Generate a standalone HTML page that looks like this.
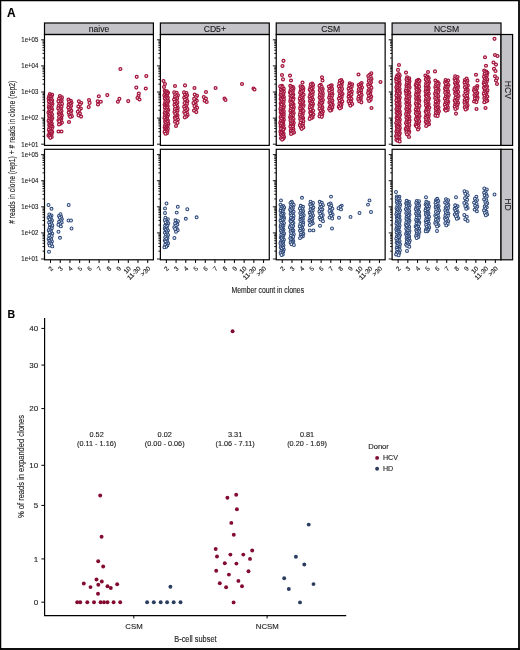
<!DOCTYPE html>
<html><head><meta charset="utf-8"><style>html,body{margin:0;padding:0;background:#fff;width:520px;height:650px;overflow:hidden}</style></head>
<body><svg width="520" height="650" viewBox="0 0 520 650" style="display:block;will-change:transform"><style>text{stroke:currentColor;stroke-width:0.12px;paint-order:stroke}</style><rect x="0" y="0" width="520" height="650" fill="#fff"/><text x="6.9" y="16.9" font-family='"Liberation Sans", sans-serif' font-weight="bold" font-size="11.9" fill="#000">A</text><text transform="translate(15.0,152.3) rotate(-90)" text-anchor="middle" font-family='"Liberation Sans", sans-serif' font-size="8.3" fill="#222" textLength="143" lengthAdjust="spacingAndGlyphs"># reads in clone (rep1) + # reads in clone (rep2)</text><rect x="44.50" y="23.0" width="108.90" height="11.50" fill="#c4c4c8" stroke="#000" stroke-width="1.2"/><text x="98.95" y="31.55" text-anchor="middle" font-family='"Liberation Sans", sans-serif' font-size="8.6" fill="#1a1a1a">naive</text><g fill="#fff3f6" stroke="#a3153d" stroke-width="1.25"><circle cx="49.9" cy="94.1" r="1.45"/><circle cx="52.2" cy="94.7" r="1.45"/><circle cx="50.6" cy="95.6" r="1.45"/><circle cx="49.1" cy="96.4" r="1.45"/><circle cx="51.5" cy="97.0" r="1.45"/><circle cx="50.1" cy="97.4" r="1.45"/><circle cx="48.6" cy="98.6" r="1.45"/><circle cx="51.1" cy="98.8" r="1.45"/><circle cx="49.6" cy="100.1" r="1.45"/><circle cx="52.2" cy="100.3" r="1.45"/><circle cx="50.7" cy="100.7" r="1.45"/><circle cx="48.9" cy="101.6" r="1.45"/><circle cx="51.3" cy="102.1" r="1.45"/><circle cx="49.8" cy="103.3" r="1.45"/><circle cx="52.4" cy="103.8" r="1.45"/><circle cx="50.9" cy="104.3" r="1.45"/><circle cx="49.2" cy="104.8" r="1.45"/><circle cx="51.8" cy="105.5" r="1.45"/><circle cx="50.2" cy="106.4" r="1.45"/><circle cx="48.8" cy="107.2" r="1.45"/><circle cx="51.3" cy="107.6" r="1.45"/><circle cx="49.6" cy="108.6" r="1.45"/><circle cx="52.1" cy="109.2" r="1.45"/><circle cx="50.7" cy="110.1" r="1.45"/><circle cx="49.4" cy="110.3" r="1.45"/><circle cx="51.5" cy="110.8" r="1.45"/><circle cx="50.0" cy="112.0" r="1.45"/><circle cx="48.5" cy="112.5" r="1.45"/><circle cx="51.1" cy="113.3" r="1.45"/><circle cx="49.7" cy="113.9" r="1.45"/><circle cx="52.0" cy="114.4" r="1.45"/><circle cx="50.5" cy="115.3" r="1.45"/><circle cx="49.1" cy="115.8" r="1.45"/><circle cx="51.3" cy="116.9" r="1.45"/><circle cx="49.7" cy="117.3" r="1.45"/><circle cx="52.3" cy="118.0" r="1.45"/><circle cx="50.9" cy="118.9" r="1.45"/><circle cx="49.3" cy="119.1" r="1.45"/><circle cx="51.5" cy="120.0" r="1.45"/><circle cx="50.1" cy="120.5" r="1.45"/><circle cx="48.6" cy="120.9" r="1.45"/><circle cx="51.0" cy="122.1" r="1.45"/><circle cx="49.6" cy="122.4" r="1.45"/><circle cx="51.8" cy="123.6" r="1.45"/><circle cx="50.6" cy="123.9" r="1.45"/><circle cx="49.2" cy="124.9" r="1.45"/><circle cx="51.4" cy="125.6" r="1.45"/><circle cx="50.0" cy="125.9" r="1.45"/><circle cx="52.5" cy="126.9" r="1.45"/><circle cx="50.8" cy="127.0" r="1.45"/><circle cx="49.4" cy="127.8" r="1.45"/><circle cx="51.8" cy="128.6" r="1.45"/><circle cx="50.2" cy="129.1" r="1.45"/><circle cx="48.9" cy="129.9" r="1.45"/><circle cx="51.4" cy="130.7" r="1.45"/><circle cx="49.8" cy="131.5" r="1.45"/><circle cx="52.2" cy="132.1" r="1.45"/><circle cx="50.9" cy="132.3" r="1.45"/><circle cx="49.4" cy="133.6" r="1.45"/><circle cx="51.6" cy="134.3" r="1.45"/><circle cx="50.0" cy="134.6" r="1.45"/><circle cx="48.5" cy="135.5" r="1.45"/><circle cx="50.9" cy="135.7" r="1.45"/><circle cx="49.5" cy="136.4" r="1.45"/><circle cx="51.7" cy="137.0" r="1.45"/><circle cx="50.3" cy="137.8" r="1.45"/><circle cx="59.9" cy="96.1" r="1.45"/><circle cx="61.9" cy="97.4" r="1.45"/><circle cx="60.5" cy="98.0" r="1.45"/><circle cx="59.0" cy="98.9" r="1.45"/><circle cx="61.7" cy="100.2" r="1.45"/><circle cx="60.0" cy="100.8" r="1.45"/><circle cx="58.4" cy="101.3" r="1.45"/><circle cx="60.8" cy="102.4" r="1.45"/><circle cx="59.4" cy="103.7" r="1.45"/><circle cx="62.0" cy="103.9" r="1.45"/><circle cx="60.2" cy="105.2" r="1.45"/><circle cx="58.7" cy="106.0" r="1.45"/><circle cx="61.5" cy="106.9" r="1.45"/><circle cx="59.9" cy="108.0" r="1.45"/><circle cx="58.3" cy="108.4" r="1.45"/><circle cx="60.8" cy="109.2" r="1.45"/><circle cx="59.4" cy="110.4" r="1.45"/><circle cx="61.5" cy="111.1" r="1.45"/><circle cx="60.4" cy="112.3" r="1.45"/><circle cx="58.8" cy="113.2" r="1.45"/><circle cx="61.2" cy="114.1" r="1.45"/><circle cx="59.6" cy="114.5" r="1.45"/><circle cx="61.8" cy="115.5" r="1.45"/><circle cx="60.4" cy="116.1" r="1.45"/><circle cx="59.1" cy="117.1" r="1.45"/><circle cx="61.4" cy="118.5" r="1.45"/><circle cx="60.2" cy="119.4" r="1.45"/><circle cx="58.5" cy="120.3" r="1.45"/><circle cx="60.8" cy="120.6" r="1.45"/><circle cx="59.3" cy="121.4" r="1.45"/><circle cx="61.9" cy="122.6" r="1.45"/><circle cx="60.3" cy="123.7" r="1.45"/><circle cx="59.0" cy="124.4" r="1.45"/><circle cx="58.5" cy="131.5" r="1.45"/><circle cx="61.5" cy="131.5" r="1.45"/><circle cx="68.5" cy="99.6" r="1.45"/><circle cx="70.8" cy="100.8" r="1.45"/><circle cx="69.1" cy="101.6" r="1.45"/><circle cx="71.5" cy="102.8" r="1.45"/><circle cx="70.3" cy="103.9" r="1.45"/><circle cx="68.7" cy="104.6" r="1.45"/><circle cx="71.1" cy="106.0" r="1.45"/><circle cx="69.5" cy="106.4" r="1.45"/><circle cx="68.3" cy="107.5" r="1.45"/><circle cx="70.4" cy="109.0" r="1.45"/><circle cx="69.2" cy="110.1" r="1.45"/><circle cx="71.3" cy="110.9" r="1.45"/><circle cx="69.8" cy="111.9" r="1.45"/><circle cx="68.7" cy="112.5" r="1.45"/><circle cx="70.9" cy="114.0" r="1.45"/><circle cx="69.4" cy="115.3" r="1.45"/><circle cx="71.9" cy="116.3" r="1.45"/><circle cx="70.2" cy="116.8" r="1.45"/><circle cx="69.0" cy="122.0" r="1.45"/><circle cx="78.9" cy="101.3" r="1.45"/><circle cx="81.2" cy="103.0" r="1.45"/><circle cx="79.9" cy="104.6" r="1.45"/><circle cx="78.3" cy="106.5" r="1.45"/><circle cx="80.8" cy="108.5" r="1.45"/><circle cx="79.4" cy="110.1" r="1.45"/><circle cx="77.8" cy="111.8" r="1.45"/><circle cx="79.9" cy="113.6" r="1.45"/><circle cx="78.5" cy="115.3" r="1.45"/><circle cx="81.1" cy="116.6" r="1.45"/><circle cx="89.0" cy="100.0" r="1.45"/><circle cx="89.6" cy="102.9" r="1.45"/><circle cx="88.7" cy="107.1" r="1.45"/><circle cx="98.8" cy="96.2" r="1.45"/><circle cx="97.7" cy="101.2" r="1.45"/><circle cx="100.8" cy="101.7" r="1.45"/><circle cx="98.0" cy="104.5" r="1.45"/><circle cx="107.3" cy="95.1" r="1.45"/><circle cx="120.4" cy="69.0" r="1.45"/><circle cx="119.4" cy="98.8" r="1.45"/><circle cx="117.9" cy="101.7" r="1.45"/><circle cx="128.2" cy="101.1" r="1.45"/><circle cx="136.7" cy="76.8" r="1.45"/><circle cx="136.3" cy="87.6" r="1.45"/><circle cx="138.8" cy="93.5" r="1.45"/><circle cx="138.5" cy="96.0" r="1.45"/><circle cx="137.5" cy="98.0" r="1.45"/><circle cx="139.5" cy="99.5" r="1.45"/><circle cx="146.3" cy="76.1" r="1.45"/><circle cx="145.8" cy="88.5" r="1.45"/></g><rect x="44.50" y="34.5" width="108.90" height="110.90" fill="none" stroke="#000" stroke-width="1.2"/><path d="M41.10 39.80H44.50 M42.50 58.04H44.50 M42.50 53.45H44.50 M42.50 50.19H44.50 M42.50 47.66H44.50 M42.50 45.59H44.50 M42.50 43.84H44.50 M42.50 42.33H44.50 M42.50 40.99H44.50 M41.10 65.90H44.50 M42.50 84.14H44.50 M42.50 79.55H44.50 M42.50 76.29H44.50 M42.50 73.76H44.50 M42.50 71.69H44.50 M42.50 69.94H44.50 M42.50 68.43H44.50 M42.50 67.09H44.50 M41.10 92.00H44.50 M42.50 110.24H44.50 M42.50 105.65H44.50 M42.50 102.39H44.50 M42.50 99.86H44.50 M42.50 97.79H44.50 M42.50 96.04H44.50 M42.50 94.53H44.50 M42.50 93.19H44.50 M41.10 118.10H44.50 M42.50 136.34H44.50 M42.50 131.75H44.50 M42.50 128.49H44.50 M42.50 125.96H44.50 M42.50 123.89H44.50 M42.50 122.14H44.50 M42.50 120.63H44.50 M42.50 119.29H44.50 M41.10 144.20H44.50" stroke="#000" stroke-width="0.9" fill="none"/><text x="38.3" y="42.10" text-anchor="end" font-family='"Liberation Sans", sans-serif' font-size="6.6" fill="#1e1e1e" textLength="17" lengthAdjust="spacingAndGlyphs">1e+05</text><text x="38.3" y="68.20" text-anchor="end" font-family='"Liberation Sans", sans-serif' font-size="6.6" fill="#1e1e1e" textLength="17" lengthAdjust="spacingAndGlyphs">1e+04</text><text x="38.3" y="94.30" text-anchor="end" font-family='"Liberation Sans", sans-serif' font-size="6.6" fill="#1e1e1e" textLength="17" lengthAdjust="spacingAndGlyphs">1e+03</text><text x="38.3" y="120.40" text-anchor="end" font-family='"Liberation Sans", sans-serif' font-size="6.6" fill="#1e1e1e" textLength="17" lengthAdjust="spacingAndGlyphs">1e+02</text><text x="38.3" y="146.50" text-anchor="end" font-family='"Liberation Sans", sans-serif' font-size="6.6" fill="#1e1e1e" textLength="17" lengthAdjust="spacingAndGlyphs">1e+01</text><g fill="#eef2fa" stroke="#2c4778" stroke-width="1.05"><circle cx="49.3" cy="214.5" r="1.45"/><circle cx="51.5" cy="215.5" r="1.45"/><circle cx="50.2" cy="216.5" r="1.45"/><circle cx="48.5" cy="217.7" r="1.45"/><circle cx="50.9" cy="218.5" r="1.45"/><circle cx="49.7" cy="219.3" r="1.45"/><circle cx="52.0" cy="220.5" r="1.45"/><circle cx="50.7" cy="221.7" r="1.45"/><circle cx="49.1" cy="222.5" r="1.45"/><circle cx="51.4" cy="223.5" r="1.45"/><circle cx="49.9" cy="224.7" r="1.45"/><circle cx="52.3" cy="225.5" r="1.45"/><circle cx="50.9" cy="226.9" r="1.45"/><circle cx="49.6" cy="227.8" r="1.45"/><circle cx="51.8" cy="228.3" r="1.45"/><circle cx="50.4" cy="229.9" r="1.45"/><circle cx="48.7" cy="230.2" r="1.45"/><circle cx="51.0" cy="231.5" r="1.45"/><circle cx="49.6" cy="232.3" r="1.45"/><circle cx="52.2" cy="233.6" r="1.45"/><circle cx="50.5" cy="234.8" r="1.45"/><circle cx="49.2" cy="235.7" r="1.45"/><circle cx="51.7" cy="236.2" r="1.45"/><circle cx="50.0" cy="237.9" r="1.45"/><circle cx="48.6" cy="238.9" r="1.45"/><circle cx="51.2" cy="239.5" r="1.45"/><circle cx="49.4" cy="240.8" r="1.45"/><circle cx="51.9" cy="241.4" r="1.45"/><circle cx="50.3" cy="242.4" r="1.45"/><circle cx="49.1" cy="243.4" r="1.45"/><circle cx="51.3" cy="244.1" r="1.45"/><circle cx="49.7" cy="245.5" r="1.45"/><circle cx="52.3" cy="246.4" r="1.45"/><circle cx="48.5" cy="205.0" r="1.45"/><circle cx="51.5" cy="208.8" r="1.45"/><circle cx="49.0" cy="251.7" r="1.45"/><circle cx="60.5" cy="214.2" r="1.45"/><circle cx="59.0" cy="216.0" r="1.45"/><circle cx="61.1" cy="216.6" r="1.45"/><circle cx="59.8" cy="217.7" r="1.45"/><circle cx="61.9" cy="219.1" r="1.45"/><circle cx="60.8" cy="220.3" r="1.45"/><circle cx="59.1" cy="221.8" r="1.45"/><circle cx="61.7" cy="222.4" r="1.45"/><circle cx="60.1" cy="223.9" r="1.45"/><circle cx="58.4" cy="224.7" r="1.45"/><circle cx="60.9" cy="226.4" r="1.45"/><circle cx="58.5" cy="231.7" r="1.45"/><circle cx="60.0" cy="237.8" r="1.45"/><circle cx="68.7" cy="205.0" r="1.45"/><circle cx="68.5" cy="220.5" r="1.45"/><circle cx="71.0" cy="220.5" r="1.45"/><circle cx="71.5" cy="228.5" r="1.45"/></g><rect x="44.50" y="149.3" width="108.90" height="110.50" fill="none" stroke="#000" stroke-width="1.2"/><path d="M41.10 154.60H44.50 M42.50 172.84H44.50 M42.50 168.25H44.50 M42.50 164.99H44.50 M42.50 162.46H44.50 M42.50 160.39H44.50 M42.50 158.64H44.50 M42.50 157.13H44.50 M42.50 155.79H44.50 M41.10 180.70H44.50 M42.50 198.94H44.50 M42.50 194.35H44.50 M42.50 191.09H44.50 M42.50 188.56H44.50 M42.50 186.49H44.50 M42.50 184.74H44.50 M42.50 183.23H44.50 M42.50 181.89H44.50 M41.10 206.80H44.50 M42.50 225.04H44.50 M42.50 220.45H44.50 M42.50 217.19H44.50 M42.50 214.66H44.50 M42.50 212.59H44.50 M42.50 210.84H44.50 M42.50 209.33H44.50 M42.50 207.99H44.50 M41.10 232.90H44.50 M42.50 251.14H44.50 M42.50 246.55H44.50 M42.50 243.29H44.50 M42.50 240.76H44.50 M42.50 238.69H44.50 M42.50 236.94H44.50 M42.50 235.43H44.50 M42.50 234.09H44.50 M41.10 259.00H44.50" stroke="#000" stroke-width="0.9" fill="none"/><text x="38.3" y="156.90" text-anchor="end" font-family='"Liberation Sans", sans-serif' font-size="6.6" fill="#1e1e1e" textLength="17" lengthAdjust="spacingAndGlyphs">1e+05</text><text x="38.3" y="183.00" text-anchor="end" font-family='"Liberation Sans", sans-serif' font-size="6.6" fill="#1e1e1e" textLength="17" lengthAdjust="spacingAndGlyphs">1e+04</text><text x="38.3" y="209.10" text-anchor="end" font-family='"Liberation Sans", sans-serif' font-size="6.6" fill="#1e1e1e" textLength="17" lengthAdjust="spacingAndGlyphs">1e+03</text><text x="38.3" y="235.20" text-anchor="end" font-family='"Liberation Sans", sans-serif' font-size="6.6" fill="#1e1e1e" textLength="17" lengthAdjust="spacingAndGlyphs">1e+02</text><text x="38.3" y="261.30" text-anchor="end" font-family='"Liberation Sans", sans-serif' font-size="6.6" fill="#1e1e1e" textLength="17" lengthAdjust="spacingAndGlyphs">1e+01</text><path d="M50.50 259.80V263.00 M60.22 259.80V263.00 M69.94 259.80V263.00 M79.66 259.80V263.00 M89.38 259.80V263.00 M99.10 259.80V263.00 M108.82 259.80V263.00 M118.54 259.80V263.00 M128.26 259.80V263.00 M137.98 259.80V263.00 M147.70 259.80V263.00" stroke="#000" stroke-width="1.0" fill="none"/><text transform="translate(53.50,269.00) rotate(-45)" text-anchor="end" font-family='"Liberation Sans", sans-serif' font-size="6.4" fill="#1e1e1e">2</text><text transform="translate(63.22,269.00) rotate(-45)" text-anchor="end" font-family='"Liberation Sans", sans-serif' font-size="6.4" fill="#1e1e1e">3</text><text transform="translate(72.94,269.00) rotate(-45)" text-anchor="end" font-family='"Liberation Sans", sans-serif' font-size="6.4" fill="#1e1e1e">4</text><text transform="translate(82.66,269.00) rotate(-45)" text-anchor="end" font-family='"Liberation Sans", sans-serif' font-size="6.4" fill="#1e1e1e">5</text><text transform="translate(92.38,269.00) rotate(-45)" text-anchor="end" font-family='"Liberation Sans", sans-serif' font-size="6.4" fill="#1e1e1e">6</text><text transform="translate(102.10,269.00) rotate(-45)" text-anchor="end" font-family='"Liberation Sans", sans-serif' font-size="6.4" fill="#1e1e1e">7</text><text transform="translate(111.82,269.00) rotate(-45)" text-anchor="end" font-family='"Liberation Sans", sans-serif' font-size="6.4" fill="#1e1e1e">8</text><text transform="translate(121.54,269.00) rotate(-45)" text-anchor="end" font-family='"Liberation Sans", sans-serif' font-size="6.4" fill="#1e1e1e">9</text><text transform="translate(131.26,269.00) rotate(-45)" text-anchor="end" font-family='"Liberation Sans", sans-serif' font-size="6.4" fill="#1e1e1e">10</text><text transform="translate(140.98,269.00) rotate(-45)" text-anchor="end" font-family='"Liberation Sans", sans-serif' font-size="6.4" fill="#1e1e1e">11-30</text><text transform="translate(150.70,269.00) rotate(-45)" text-anchor="end" font-family='"Liberation Sans", sans-serif' font-size="6.4" fill="#1e1e1e">&gt;30</text><rect x="160.37" y="23.0" width="108.90" height="11.50" fill="#c4c4c8" stroke="#000" stroke-width="1.2"/><text x="214.82" y="31.55" text-anchor="middle" font-family='"Liberation Sans", sans-serif' font-size="8.6" fill="#1a1a1a">CD5+</text><g fill="#fff3f6" stroke="#a3153d" stroke-width="1.25"><circle cx="164.8" cy="90.7" r="1.45"/><circle cx="166.9" cy="91.2" r="1.45"/><circle cx="165.5" cy="92.0" r="1.45"/><circle cx="168.0" cy="92.6" r="1.45"/><circle cx="166.6" cy="92.9" r="1.45"/><circle cx="165.0" cy="94.0" r="1.45"/><circle cx="167.4" cy="94.0" r="1.45"/><circle cx="165.8" cy="94.8" r="1.45"/><circle cx="164.4" cy="95.4" r="1.45"/><circle cx="166.8" cy="96.1" r="1.45"/><circle cx="165.5" cy="96.8" r="1.45"/><circle cx="167.8" cy="97.5" r="1.45"/><circle cx="166.3" cy="98.1" r="1.45"/><circle cx="164.8" cy="98.6" r="1.45"/><circle cx="167.3" cy="99.3" r="1.45"/><circle cx="165.6" cy="100.4" r="1.45"/><circle cx="168.3" cy="101.0" r="1.45"/><circle cx="166.8" cy="101.4" r="1.45"/><circle cx="165.2" cy="102.3" r="1.45"/><circle cx="167.5" cy="103.3" r="1.45"/><circle cx="166.2" cy="103.7" r="1.45"/><circle cx="164.6" cy="104.7" r="1.45"/><circle cx="167.1" cy="105.3" r="1.45"/><circle cx="165.5" cy="105.8" r="1.45"/><circle cx="167.7" cy="106.2" r="1.45"/><circle cx="166.3" cy="106.7" r="1.45"/><circle cx="164.9" cy="107.9" r="1.45"/><circle cx="167.2" cy="108.1" r="1.45"/><circle cx="166.1" cy="109.3" r="1.45"/><circle cx="168.2" cy="109.8" r="1.45"/><circle cx="166.7" cy="110.1" r="1.45"/><circle cx="165.2" cy="111.0" r="1.45"/><circle cx="167.6" cy="111.6" r="1.45"/><circle cx="166.4" cy="112.7" r="1.45"/><circle cx="164.7" cy="113.0" r="1.45"/><circle cx="167.1" cy="114.0" r="1.45"/><circle cx="165.5" cy="114.2" r="1.45"/><circle cx="168.0" cy="114.9" r="1.45"/><circle cx="166.5" cy="115.7" r="1.45"/><circle cx="164.9" cy="116.3" r="1.45"/><circle cx="167.3" cy="116.8" r="1.45"/><circle cx="165.9" cy="117.6" r="1.45"/><circle cx="164.5" cy="118.0" r="1.45"/><circle cx="167.0" cy="118.8" r="1.45"/><circle cx="165.6" cy="119.7" r="1.45"/><circle cx="167.9" cy="120.5" r="1.45"/><circle cx="166.3" cy="121.3" r="1.45"/><circle cx="165.1" cy="121.5" r="1.45"/><circle cx="167.4" cy="122.1" r="1.45"/><circle cx="165.6" cy="123.1" r="1.45"/><circle cx="168.3" cy="123.9" r="1.45"/><circle cx="166.8" cy="124.4" r="1.45"/><circle cx="165.1" cy="125.2" r="1.45"/><circle cx="167.6" cy="125.7" r="1.45"/><circle cx="166.3" cy="126.6" r="1.45"/><circle cx="164.7" cy="127.3" r="1.45"/><circle cx="167.1" cy="128.0" r="1.45"/><circle cx="165.5" cy="128.5" r="1.45"/><circle cx="167.8" cy="128.6" r="1.45"/><circle cx="166.4" cy="129.6" r="1.45"/><circle cx="165.1" cy="130.6" r="1.45"/><circle cx="167.5" cy="131.1" r="1.45"/><circle cx="165.9" cy="131.8" r="1.45"/><circle cx="164.6" cy="131.9" r="1.45"/><circle cx="166.9" cy="133.2" r="1.45"/><circle cx="165.5" cy="133.7" r="1.45"/><circle cx="163.5" cy="81.0" r="1.45"/><circle cx="165.0" cy="84.0" r="1.45"/><circle cx="164.0" cy="87.0" r="1.45"/><circle cx="174.3" cy="92.4" r="1.45"/><circle cx="176.7" cy="92.8" r="1.45"/><circle cx="175.2" cy="94.3" r="1.45"/><circle cx="177.9" cy="95.3" r="1.45"/><circle cx="176.2" cy="96.0" r="1.45"/><circle cx="174.9" cy="97.0" r="1.45"/><circle cx="177.2" cy="98.2" r="1.45"/><circle cx="175.5" cy="99.0" r="1.45"/><circle cx="174.1" cy="99.6" r="1.45"/><circle cx="176.5" cy="101.0" r="1.45"/><circle cx="174.9" cy="101.8" r="1.45"/><circle cx="177.4" cy="102.4" r="1.45"/><circle cx="176.1" cy="103.8" r="1.45"/><circle cx="174.5" cy="104.8" r="1.45"/><circle cx="176.9" cy="105.6" r="1.45"/><circle cx="175.3" cy="106.6" r="1.45"/><circle cx="177.7" cy="107.9" r="1.45"/><circle cx="176.5" cy="108.9" r="1.45"/><circle cx="174.9" cy="109.1" r="1.45"/><circle cx="177.5" cy="110.7" r="1.45"/><circle cx="175.7" cy="111.4" r="1.45"/><circle cx="174.5" cy="112.1" r="1.45"/><circle cx="176.7" cy="113.1" r="1.45"/><circle cx="175.3" cy="114.0" r="1.45"/><circle cx="177.5" cy="115.6" r="1.45"/><circle cx="176.2" cy="116.5" r="1.45"/><circle cx="174.8" cy="117.5" r="1.45"/><circle cx="177.2" cy="117.9" r="1.45"/><circle cx="175.4" cy="119.1" r="1.45"/><circle cx="177.9" cy="119.6" r="1.45"/><circle cx="176.4" cy="121.0" r="1.45"/><circle cx="175.0" cy="121.7" r="1.45"/><circle cx="177.5" cy="122.8" r="1.45"/><circle cx="175.0" cy="86.0" r="1.45"/><circle cx="176.0" cy="126.0" r="1.45"/><circle cx="184.1" cy="92.4" r="1.45"/><circle cx="186.4" cy="93.0" r="1.45"/><circle cx="185.0" cy="94.6" r="1.45"/><circle cx="187.1" cy="95.4" r="1.45"/><circle cx="185.9" cy="96.5" r="1.45"/><circle cx="184.2" cy="97.8" r="1.45"/><circle cx="186.5" cy="98.8" r="1.45"/><circle cx="185.0" cy="99.6" r="1.45"/><circle cx="187.4" cy="101.3" r="1.45"/><circle cx="186.0" cy="102.5" r="1.45"/><circle cx="184.6" cy="103.0" r="1.45"/><circle cx="186.9" cy="104.1" r="1.45"/><circle cx="185.7" cy="105.8" r="1.45"/><circle cx="184.1" cy="106.7" r="1.45"/><circle cx="186.6" cy="107.9" r="1.45"/><circle cx="185.0" cy="108.7" r="1.45"/><circle cx="187.4" cy="109.4" r="1.45"/><circle cx="185.9" cy="110.8" r="1.45"/><circle cx="184.3" cy="112.1" r="1.45"/><circle cx="186.9" cy="112.7" r="1.45"/><circle cx="185.3" cy="113.9" r="1.45"/><circle cx="187.6" cy="115.1" r="1.45"/><circle cx="186.4" cy="116.5" r="1.45"/><circle cx="184.8" cy="117.3" r="1.45"/><circle cx="185.0" cy="85.4" r="1.45"/><circle cx="194.7" cy="94.6" r="1.45"/><circle cx="197.0" cy="95.7" r="1.45"/><circle cx="195.8" cy="97.2" r="1.45"/><circle cx="194.1" cy="98.9" r="1.45"/><circle cx="196.8" cy="100.7" r="1.45"/><circle cx="195.0" cy="101.8" r="1.45"/><circle cx="193.5" cy="103.1" r="1.45"/><circle cx="195.8" cy="104.7" r="1.45"/><circle cx="194.5" cy="106.1" r="1.45"/><circle cx="197.1" cy="107.8" r="1.45"/><circle cx="195.4" cy="109.4" r="1.45"/><circle cx="194.0" cy="110.6" r="1.45"/><circle cx="196.3" cy="112.1" r="1.45"/><circle cx="194.5" cy="88.0" r="1.45"/><circle cx="203.8" cy="97.1" r="1.45"/><circle cx="205.9" cy="98.6" r="1.45"/><circle cx="204.6" cy="100.7" r="1.45"/><circle cx="206.7" cy="102.0" r="1.45"/><circle cx="206.0" cy="92.0" r="1.45"/><circle cx="215.6" cy="88.0" r="1.45"/><circle cx="224.5" cy="98.6" r="1.45"/><circle cx="225.5" cy="100.0" r="1.45"/><circle cx="242.0" cy="84.0" r="1.45"/><circle cx="253.5" cy="88.5" r="1.45"/><circle cx="254.5" cy="89.5" r="1.45"/></g><rect x="160.37" y="34.5" width="108.90" height="110.90" fill="none" stroke="#000" stroke-width="1.2"/><path d="M156.97 39.80H160.37 M158.37 58.04H160.37 M158.37 53.45H160.37 M158.37 50.19H160.37 M158.37 47.66H160.37 M158.37 45.59H160.37 M158.37 43.84H160.37 M158.37 42.33H160.37 M158.37 40.99H160.37 M156.97 65.90H160.37 M158.37 84.14H160.37 M158.37 79.55H160.37 M158.37 76.29H160.37 M158.37 73.76H160.37 M158.37 71.69H160.37 M158.37 69.94H160.37 M158.37 68.43H160.37 M158.37 67.09H160.37 M156.97 92.00H160.37 M158.37 110.24H160.37 M158.37 105.65H160.37 M158.37 102.39H160.37 M158.37 99.86H160.37 M158.37 97.79H160.37 M158.37 96.04H160.37 M158.37 94.53H160.37 M158.37 93.19H160.37 M156.97 118.10H160.37 M158.37 136.34H160.37 M158.37 131.75H160.37 M158.37 128.49H160.37 M158.37 125.96H160.37 M158.37 123.89H160.37 M158.37 122.14H160.37 M158.37 120.63H160.37 M158.37 119.29H160.37 M156.97 144.20H160.37" stroke="#000" stroke-width="0.9" fill="none"/><g fill="#eef2fa" stroke="#2c4778" stroke-width="1.05"><circle cx="165.4" cy="217.7" r="1.45"/><circle cx="167.9" cy="219.1" r="1.45"/><circle cx="166.1" cy="219.9" r="1.45"/><circle cx="164.9" cy="220.2" r="1.45"/><circle cx="167.2" cy="221.8" r="1.45"/><circle cx="165.6" cy="222.5" r="1.45"/><circle cx="168.3" cy="223.3" r="1.45"/><circle cx="166.8" cy="224.5" r="1.45"/><circle cx="165.1" cy="225.6" r="1.45"/><circle cx="167.4" cy="225.8" r="1.45"/><circle cx="166.2" cy="227.1" r="1.45"/><circle cx="164.7" cy="228.4" r="1.45"/><circle cx="167.1" cy="229.0" r="1.45"/><circle cx="165.6" cy="229.8" r="1.45"/><circle cx="168.0" cy="230.4" r="1.45"/><circle cx="166.6" cy="231.5" r="1.45"/><circle cx="164.9" cy="232.8" r="1.45"/><circle cx="167.2" cy="233.3" r="1.45"/><circle cx="166.0" cy="234.6" r="1.45"/><circle cx="168.1" cy="235.1" r="1.45"/><circle cx="166.8" cy="236.4" r="1.45"/><circle cx="165.2" cy="237.2" r="1.45"/><circle cx="167.5" cy="238.3" r="1.45"/><circle cx="166.2" cy="239.0" r="1.45"/><circle cx="164.8" cy="240.5" r="1.45"/><circle cx="167.1" cy="241.3" r="1.45"/><circle cx="165.6" cy="241.7" r="1.45"/><circle cx="168.1" cy="243.3" r="1.45"/><circle cx="166.4" cy="243.7" r="1.45"/><circle cx="165.2" cy="244.7" r="1.45"/><circle cx="167.4" cy="245.6" r="1.45"/><circle cx="166.2" cy="246.7" r="1.45"/><circle cx="164.4" cy="247.3" r="1.45"/><circle cx="166.5" cy="203.5" r="1.45"/><circle cx="165.0" cy="208.4" r="1.45"/><circle cx="165.0" cy="213.0" r="1.45"/><circle cx="175.5" cy="220.3" r="1.45"/><circle cx="177.9" cy="221.2" r="1.45"/><circle cx="176.4" cy="222.8" r="1.45"/><circle cx="175.1" cy="223.4" r="1.45"/><circle cx="177.4" cy="224.6" r="1.45"/><circle cx="175.7" cy="225.7" r="1.45"/><circle cx="174.3" cy="227.2" r="1.45"/><circle cx="176.7" cy="228.5" r="1.45"/><circle cx="175.2" cy="229.0" r="1.45"/><circle cx="177.7" cy="230.3" r="1.45"/><circle cx="176.0" cy="231.8" r="1.45"/><circle cx="177.8" cy="206.7" r="1.45"/><circle cx="176.7" cy="212.6" r="1.45"/><circle cx="174.4" cy="238.0" r="1.45"/><circle cx="187.3" cy="209.2" r="1.45"/><circle cx="185.8" cy="218.8" r="1.45"/><circle cx="196.6" cy="217.3" r="1.45"/></g><rect x="160.37" y="149.3" width="108.90" height="110.50" fill="none" stroke="#000" stroke-width="1.2"/><path d="M156.97 154.60H160.37 M158.37 172.84H160.37 M158.37 168.25H160.37 M158.37 164.99H160.37 M158.37 162.46H160.37 M158.37 160.39H160.37 M158.37 158.64H160.37 M158.37 157.13H160.37 M158.37 155.79H160.37 M156.97 180.70H160.37 M158.37 198.94H160.37 M158.37 194.35H160.37 M158.37 191.09H160.37 M158.37 188.56H160.37 M158.37 186.49H160.37 M158.37 184.74H160.37 M158.37 183.23H160.37 M158.37 181.89H160.37 M156.97 206.80H160.37 M158.37 225.04H160.37 M158.37 220.45H160.37 M158.37 217.19H160.37 M158.37 214.66H160.37 M158.37 212.59H160.37 M158.37 210.84H160.37 M158.37 209.33H160.37 M158.37 207.99H160.37 M156.97 232.90H160.37 M158.37 251.14H160.37 M158.37 246.55H160.37 M158.37 243.29H160.37 M158.37 240.76H160.37 M158.37 238.69H160.37 M158.37 236.94H160.37 M158.37 235.43H160.37 M158.37 234.09H160.37 M156.97 259.00H160.37" stroke="#000" stroke-width="0.9" fill="none"/><path d="M166.37 259.80V263.00 M176.09 259.80V263.00 M185.81 259.80V263.00 M195.53 259.80V263.00 M205.25 259.80V263.00 M214.97 259.80V263.00 M224.69 259.80V263.00 M234.41 259.80V263.00 M244.13 259.80V263.00 M253.85 259.80V263.00 M263.57 259.80V263.00" stroke="#000" stroke-width="1.0" fill="none"/><text transform="translate(169.37,269.00) rotate(-45)" text-anchor="end" font-family='"Liberation Sans", sans-serif' font-size="6.4" fill="#1e1e1e">2</text><text transform="translate(179.09,269.00) rotate(-45)" text-anchor="end" font-family='"Liberation Sans", sans-serif' font-size="6.4" fill="#1e1e1e">3</text><text transform="translate(188.81,269.00) rotate(-45)" text-anchor="end" font-family='"Liberation Sans", sans-serif' font-size="6.4" fill="#1e1e1e">4</text><text transform="translate(198.53,269.00) rotate(-45)" text-anchor="end" font-family='"Liberation Sans", sans-serif' font-size="6.4" fill="#1e1e1e">5</text><text transform="translate(208.25,269.00) rotate(-45)" text-anchor="end" font-family='"Liberation Sans", sans-serif' font-size="6.4" fill="#1e1e1e">6</text><text transform="translate(217.97,269.00) rotate(-45)" text-anchor="end" font-family='"Liberation Sans", sans-serif' font-size="6.4" fill="#1e1e1e">7</text><text transform="translate(227.69,269.00) rotate(-45)" text-anchor="end" font-family='"Liberation Sans", sans-serif' font-size="6.4" fill="#1e1e1e">8</text><text transform="translate(237.41,269.00) rotate(-45)" text-anchor="end" font-family='"Liberation Sans", sans-serif' font-size="6.4" fill="#1e1e1e">9</text><text transform="translate(247.13,269.00) rotate(-45)" text-anchor="end" font-family='"Liberation Sans", sans-serif' font-size="6.4" fill="#1e1e1e">10</text><text transform="translate(256.85,269.00) rotate(-45)" text-anchor="end" font-family='"Liberation Sans", sans-serif' font-size="6.4" fill="#1e1e1e">11-30</text><text transform="translate(266.57,269.00) rotate(-45)" text-anchor="end" font-family='"Liberation Sans", sans-serif' font-size="6.4" fill="#1e1e1e">&gt;30</text><rect x="276.24" y="23.0" width="108.90" height="11.50" fill="#c4c4c8" stroke="#000" stroke-width="1.2"/><text x="330.69" y="31.55" text-anchor="middle" font-family='"Liberation Sans", sans-serif' font-size="8.6" fill="#1a1a1a">CSM</text><g fill="#fff3f6" stroke="#a3153d" stroke-width="1.25"><circle cx="282.0" cy="85.8" r="1.45"/><circle cx="280.2" cy="86.4" r="1.45"/><circle cx="282.7" cy="87.0" r="1.45"/><circle cx="281.4" cy="88.3" r="1.45"/><circle cx="283.8" cy="88.8" r="1.45"/><circle cx="282.1" cy="89.7" r="1.45"/><circle cx="280.9" cy="89.7" r="1.45"/><circle cx="282.9" cy="90.8" r="1.45"/><circle cx="281.6" cy="91.4" r="1.45"/><circle cx="283.9" cy="91.9" r="1.45"/><circle cx="282.3" cy="92.4" r="1.45"/><circle cx="281.0" cy="93.1" r="1.45"/><circle cx="283.3" cy="94.3" r="1.45"/><circle cx="281.8" cy="95.0" r="1.45"/><circle cx="280.6" cy="95.1" r="1.45"/><circle cx="282.8" cy="96.2" r="1.45"/><circle cx="281.4" cy="96.2" r="1.45"/><circle cx="283.9" cy="97.1" r="1.45"/><circle cx="282.3" cy="97.6" r="1.45"/><circle cx="280.7" cy="98.9" r="1.45"/><circle cx="283.3" cy="99.1" r="1.45"/><circle cx="281.6" cy="100.1" r="1.45"/><circle cx="283.9" cy="100.1" r="1.45"/><circle cx="282.6" cy="101.5" r="1.45"/><circle cx="281.4" cy="102.0" r="1.45"/><circle cx="283.5" cy="102.4" r="1.45"/><circle cx="282.1" cy="103.5" r="1.45"/><circle cx="280.7" cy="103.6" r="1.45"/><circle cx="282.9" cy="104.3" r="1.45"/><circle cx="281.6" cy="104.7" r="1.45"/><circle cx="283.9" cy="106.1" r="1.45"/><circle cx="282.2" cy="106.8" r="1.45"/><circle cx="281.0" cy="106.9" r="1.45"/><circle cx="283.5" cy="108.1" r="1.45"/><circle cx="281.8" cy="108.3" r="1.45"/><circle cx="280.4" cy="109.0" r="1.45"/><circle cx="282.7" cy="110.1" r="1.45"/><circle cx="281.4" cy="110.6" r="1.45"/><circle cx="283.8" cy="111.3" r="1.45"/><circle cx="282.2" cy="111.8" r="1.45"/><circle cx="280.7" cy="112.2" r="1.45"/><circle cx="283.0" cy="113.3" r="1.45"/><circle cx="281.8" cy="113.4" r="1.45"/><circle cx="283.8" cy="114.1" r="1.45"/><circle cx="282.6" cy="114.6" r="1.45"/><circle cx="281.3" cy="115.5" r="1.45"/><circle cx="283.7" cy="116.6" r="1.45"/><circle cx="281.8" cy="116.8" r="1.45"/><circle cx="280.6" cy="117.3" r="1.45"/><circle cx="282.9" cy="118.5" r="1.45"/><circle cx="281.4" cy="118.7" r="1.45"/><circle cx="283.9" cy="119.7" r="1.45"/><circle cx="282.5" cy="120.5" r="1.45"/><circle cx="280.8" cy="121.1" r="1.45"/><circle cx="283.2" cy="121.9" r="1.45"/><circle cx="281.8" cy="122.3" r="1.45"/><circle cx="280.2" cy="123.1" r="1.45"/><circle cx="282.6" cy="123.4" r="1.45"/><circle cx="281.4" cy="123.9" r="1.45"/><circle cx="283.5" cy="124.9" r="1.45"/><circle cx="282.3" cy="125.5" r="1.45"/><circle cx="280.6" cy="126.2" r="1.45"/><circle cx="283.1" cy="127.1" r="1.45"/><circle cx="281.4" cy="127.9" r="1.45"/><circle cx="284.1" cy="128.2" r="1.45"/><circle cx="282.7" cy="129.1" r="1.45"/><circle cx="281.0" cy="129.1" r="1.45"/><circle cx="283.3" cy="129.8" r="1.45"/><circle cx="282.0" cy="131.2" r="1.45"/><circle cx="280.4" cy="131.8" r="1.45"/><circle cx="282.8" cy="132.4" r="1.45"/><circle cx="281.5" cy="132.6" r="1.45"/><circle cx="283.6" cy="133.8" r="1.45"/><circle cx="282.3" cy="134.2" r="1.45"/><circle cx="280.8" cy="134.5" r="1.45"/><circle cx="283.1" cy="135.1" r="1.45"/><circle cx="281.8" cy="135.9" r="1.45"/><circle cx="284.0" cy="136.9" r="1.45"/><circle cx="282.6" cy="137.0" r="1.45"/><circle cx="281.0" cy="138.2" r="1.45"/><circle cx="283.4" cy="138.6" r="1.45"/><circle cx="282.1" cy="139.6" r="1.45"/><circle cx="283.5" cy="60.8" r="1.45"/><circle cx="282.5" cy="66.0" r="1.45"/><circle cx="282.0" cy="75.0" r="1.45"/><circle cx="283.0" cy="79.4" r="1.45"/><circle cx="290.3" cy="85.8" r="1.45"/><circle cx="292.7" cy="86.8" r="1.45"/><circle cx="291.1" cy="87.2" r="1.45"/><circle cx="293.5" cy="88.4" r="1.45"/><circle cx="292.0" cy="88.8" r="1.45"/><circle cx="290.6" cy="90.1" r="1.45"/><circle cx="292.9" cy="90.5" r="1.45"/><circle cx="291.7" cy="91.2" r="1.45"/><circle cx="290.0" cy="92.4" r="1.45"/><circle cx="292.5" cy="92.5" r="1.45"/><circle cx="290.8" cy="93.2" r="1.45"/><circle cx="293.3" cy="94.5" r="1.45"/><circle cx="291.8" cy="95.2" r="1.45"/><circle cx="290.4" cy="96.0" r="1.45"/><circle cx="292.6" cy="96.1" r="1.45"/><circle cx="291.4" cy="97.2" r="1.45"/><circle cx="293.5" cy="98.2" r="1.45"/><circle cx="292.2" cy="98.7" r="1.45"/><circle cx="290.6" cy="99.4" r="1.45"/><circle cx="293.1" cy="99.9" r="1.45"/><circle cx="291.5" cy="101.2" r="1.45"/><circle cx="290.3" cy="101.6" r="1.45"/><circle cx="292.4" cy="102.7" r="1.45"/><circle cx="291.3" cy="102.7" r="1.45"/><circle cx="293.5" cy="104.2" r="1.45"/><circle cx="292.2" cy="104.2" r="1.45"/><circle cx="290.7" cy="105.2" r="1.45"/><circle cx="293.0" cy="106.1" r="1.45"/><circle cx="291.6" cy="106.5" r="1.45"/><circle cx="293.8" cy="107.2" r="1.45"/><circle cx="292.5" cy="108.5" r="1.45"/><circle cx="290.8" cy="108.7" r="1.45"/><circle cx="293.3" cy="109.6" r="1.45"/><circle cx="291.7" cy="110.3" r="1.45"/><circle cx="290.4" cy="111.0" r="1.45"/><circle cx="292.5" cy="112.2" r="1.45"/><circle cx="291.4" cy="112.7" r="1.45"/><circle cx="293.7" cy="113.0" r="1.45"/><circle cx="292.2" cy="113.8" r="1.45"/><circle cx="290.7" cy="114.9" r="1.45"/><circle cx="293.0" cy="115.4" r="1.45"/><circle cx="291.6" cy="116.4" r="1.45"/><circle cx="290.1" cy="117.2" r="1.45"/><circle cx="292.3" cy="117.7" r="1.45"/><circle cx="291.0" cy="118.6" r="1.45"/><circle cx="293.5" cy="119.1" r="1.45"/><circle cx="291.9" cy="120.2" r="1.45"/><circle cx="290.5" cy="120.5" r="1.45"/><circle cx="292.7" cy="121.2" r="1.45"/><circle cx="291.2" cy="122.2" r="1.45"/><circle cx="293.7" cy="122.9" r="1.45"/><circle cx="292.3" cy="123.3" r="1.45"/><circle cx="290.9" cy="124.1" r="1.45"/><circle cx="293.2" cy="125.4" r="1.45"/><circle cx="291.7" cy="125.6" r="1.45"/><circle cx="290.4" cy="126.6" r="1.45"/><circle cx="292.8" cy="127.1" r="1.45"/><circle cx="291.3" cy="128.5" r="1.45"/><circle cx="293.4" cy="129.1" r="1.45"/><circle cx="292.1" cy="130.0" r="1.45"/><circle cx="290.8" cy="130.7" r="1.45"/><circle cx="293.1" cy="130.8" r="1.45"/><circle cx="291.3" cy="132.2" r="1.45"/><circle cx="294.0" cy="132.4" r="1.45"/><circle cx="292.6" cy="133.0" r="1.45"/><circle cx="291.1" cy="133.9" r="1.45"/><circle cx="290.0" cy="75.6" r="1.45"/><circle cx="291.0" cy="80.5" r="1.45"/><circle cx="300.5" cy="86.4" r="1.45"/><circle cx="302.6" cy="86.9" r="1.45"/><circle cx="301.2" cy="88.0" r="1.45"/><circle cx="303.4" cy="88.4" r="1.45"/><circle cx="302.3" cy="89.2" r="1.45"/><circle cx="300.8" cy="90.4" r="1.45"/><circle cx="303.1" cy="90.8" r="1.45"/><circle cx="301.6" cy="91.6" r="1.45"/><circle cx="300.1" cy="92.8" r="1.45"/><circle cx="302.5" cy="93.7" r="1.45"/><circle cx="301.2" cy="94.3" r="1.45"/><circle cx="303.6" cy="94.7" r="1.45"/><circle cx="301.9" cy="95.9" r="1.45"/><circle cx="300.4" cy="96.8" r="1.45"/><circle cx="302.8" cy="97.7" r="1.45"/><circle cx="301.5" cy="98.0" r="1.45"/><circle cx="299.8" cy="98.9" r="1.45"/><circle cx="302.1" cy="99.9" r="1.45"/><circle cx="300.7" cy="100.7" r="1.45"/><circle cx="303.3" cy="101.4" r="1.45"/><circle cx="301.8" cy="102.1" r="1.45"/><circle cx="300.0" cy="102.7" r="1.45"/><circle cx="302.5" cy="103.2" r="1.45"/><circle cx="301.1" cy="104.5" r="1.45"/><circle cx="303.6" cy="105.2" r="1.45"/><circle cx="301.9" cy="105.6" r="1.45"/><circle cx="300.4" cy="106.8" r="1.45"/><circle cx="302.9" cy="107.1" r="1.45"/><circle cx="301.4" cy="108.0" r="1.45"/><circle cx="300.1" cy="108.8" r="1.45"/><circle cx="302.3" cy="109.9" r="1.45"/><circle cx="300.9" cy="110.7" r="1.45"/><circle cx="303.5" cy="111.1" r="1.45"/><circle cx="301.7" cy="112.0" r="1.45"/><circle cx="300.4" cy="112.6" r="1.45"/><circle cx="302.8" cy="114.1" r="1.45"/><circle cx="301.2" cy="114.5" r="1.45"/><circle cx="299.9" cy="114.9" r="1.45"/><circle cx="302.1" cy="116.1" r="1.45"/><circle cx="300.7" cy="117.0" r="1.45"/><circle cx="303.2" cy="118.0" r="1.45"/><circle cx="301.8" cy="118.2" r="1.45"/><circle cx="300.2" cy="118.9" r="1.45"/><circle cx="302.4" cy="119.9" r="1.45"/><circle cx="301.2" cy="120.4" r="1.45"/><circle cx="303.4" cy="121.2" r="1.45"/><circle cx="301.8" cy="122.7" r="1.45"/><circle cx="300.5" cy="122.9" r="1.45"/><circle cx="302.9" cy="123.9" r="1.45"/><circle cx="301.3" cy="125.0" r="1.45"/><circle cx="299.9" cy="125.3" r="1.45"/><circle cx="302.5" cy="125.9" r="1.45"/><circle cx="300.9" cy="127.3" r="1.45"/><circle cx="303.3" cy="127.4" r="1.45"/><circle cx="301.7" cy="128.8" r="1.45"/><circle cx="302.5" cy="82.6" r="1.45"/><circle cx="312.2" cy="83.6" r="1.45"/><circle cx="310.8" cy="84.2" r="1.45"/><circle cx="313.1" cy="85.0" r="1.45"/><circle cx="311.8" cy="86.4" r="1.45"/><circle cx="310.4" cy="87.4" r="1.45"/><circle cx="312.7" cy="87.8" r="1.45"/><circle cx="311.3" cy="88.8" r="1.45"/><circle cx="309.7" cy="89.7" r="1.45"/><circle cx="312.3" cy="90.7" r="1.45"/><circle cx="310.8" cy="91.2" r="1.45"/><circle cx="312.9" cy="91.9" r="1.45"/><circle cx="311.7" cy="93.0" r="1.45"/><circle cx="310.2" cy="94.4" r="1.45"/><circle cx="312.6" cy="94.8" r="1.45"/><circle cx="310.9" cy="95.6" r="1.45"/><circle cx="309.6" cy="97.0" r="1.45"/><circle cx="312.0" cy="97.7" r="1.45"/><circle cx="310.4" cy="98.7" r="1.45"/><circle cx="312.9" cy="99.5" r="1.45"/><circle cx="311.3" cy="100.4" r="1.45"/><circle cx="309.9" cy="101.1" r="1.45"/><circle cx="312.1" cy="101.7" r="1.45"/><circle cx="310.6" cy="102.8" r="1.45"/><circle cx="313.0" cy="103.9" r="1.45"/><circle cx="311.5" cy="104.1" r="1.45"/><circle cx="310.2" cy="105.6" r="1.45"/><circle cx="312.4" cy="105.9" r="1.45"/><circle cx="311.2" cy="106.7" r="1.45"/><circle cx="309.8" cy="108.0" r="1.45"/><circle cx="311.9" cy="109.0" r="1.45"/><circle cx="310.5" cy="109.7" r="1.45"/><circle cx="313.1" cy="110.8" r="1.45"/><circle cx="311.3" cy="111.7" r="1.45"/><circle cx="310.2" cy="112.5" r="1.45"/><circle cx="312.2" cy="113.5" r="1.45"/><circle cx="310.8" cy="113.7" r="1.45"/><circle cx="313.4" cy="114.5" r="1.45"/><circle cx="311.9" cy="115.9" r="1.45"/><circle cx="310.4" cy="116.8" r="1.45"/><circle cx="312.6" cy="117.3" r="1.45"/><circle cx="311.4" cy="118.0" r="1.45"/><circle cx="309.7" cy="118.9" r="1.45"/><circle cx="320.7" cy="84.8" r="1.45"/><circle cx="319.5" cy="85.9" r="1.45"/><circle cx="321.7" cy="86.8" r="1.45"/><circle cx="320.3" cy="88.2" r="1.45"/><circle cx="322.7" cy="89.0" r="1.45"/><circle cx="321.1" cy="89.2" r="1.45"/><circle cx="319.8" cy="90.4" r="1.45"/><circle cx="322.2" cy="91.2" r="1.45"/><circle cx="320.5" cy="92.3" r="1.45"/><circle cx="322.8" cy="93.4" r="1.45"/><circle cx="321.4" cy="94.3" r="1.45"/><circle cx="319.9" cy="94.5" r="1.45"/><circle cx="322.6" cy="96.0" r="1.45"/><circle cx="321.0" cy="96.3" r="1.45"/><circle cx="319.6" cy="97.5" r="1.45"/><circle cx="321.9" cy="98.2" r="1.45"/><circle cx="320.5" cy="99.2" r="1.45"/><circle cx="322.9" cy="100.0" r="1.45"/><circle cx="321.2" cy="100.9" r="1.45"/><circle cx="319.9" cy="102.1" r="1.45"/><circle cx="322.3" cy="102.6" r="1.45"/><circle cx="320.9" cy="103.4" r="1.45"/><circle cx="319.4" cy="104.8" r="1.45"/><circle cx="321.6" cy="105.6" r="1.45"/><circle cx="320.2" cy="106.3" r="1.45"/><circle cx="322.4" cy="107.6" r="1.45"/><circle cx="320.9" cy="108.5" r="1.45"/><circle cx="319.5" cy="108.8" r="1.45"/><circle cx="322.0" cy="110.3" r="1.45"/><circle cx="320.7" cy="110.8" r="1.45"/><circle cx="322.9" cy="111.5" r="1.45"/><circle cx="321.5" cy="112.6" r="1.45"/><circle cx="320.0" cy="113.7" r="1.45"/><circle cx="322.3" cy="114.3" r="1.45"/><circle cx="321.0" cy="115.0" r="1.45"/><circle cx="319.5" cy="116.3" r="1.45"/><circle cx="321.8" cy="116.8" r="1.45"/><circle cx="322.0" cy="77.3" r="1.45"/><circle cx="322.5" cy="80.5" r="1.45"/><circle cx="331.7" cy="85.2" r="1.45"/><circle cx="330.6" cy="85.9" r="1.45"/><circle cx="328.9" cy="86.6" r="1.45"/><circle cx="331.4" cy="87.5" r="1.45"/><circle cx="329.7" cy="88.8" r="1.45"/><circle cx="332.1" cy="89.1" r="1.45"/><circle cx="330.8" cy="90.1" r="1.45"/><circle cx="329.2" cy="90.8" r="1.45"/><circle cx="331.9" cy="91.7" r="1.45"/><circle cx="330.1" cy="93.0" r="1.45"/><circle cx="332.4" cy="94.0" r="1.45"/><circle cx="331.3" cy="94.4" r="1.45"/><circle cx="329.8" cy="95.6" r="1.45"/><circle cx="331.9" cy="96.1" r="1.45"/><circle cx="330.4" cy="97.2" r="1.45"/><circle cx="329.1" cy="97.7" r="1.45"/><circle cx="331.4" cy="98.4" r="1.45"/><circle cx="330.1" cy="99.8" r="1.45"/><circle cx="332.4" cy="100.5" r="1.45"/><circle cx="330.8" cy="101.3" r="1.45"/><circle cx="329.4" cy="102.2" r="1.45"/><circle cx="332.0" cy="103.2" r="1.45"/><circle cx="330.4" cy="103.8" r="1.45"/><circle cx="332.7" cy="104.9" r="1.45"/><circle cx="331.3" cy="105.3" r="1.45"/><circle cx="329.9" cy="106.7" r="1.45"/><circle cx="332.3" cy="107.4" r="1.45"/><circle cx="330.7" cy="108.3" r="1.45"/><circle cx="329.2" cy="108.9" r="1.45"/><circle cx="331.4" cy="109.9" r="1.45"/><circle cx="330.2" cy="110.6" r="1.45"/><circle cx="341.3" cy="80.0" r="1.45"/><circle cx="339.9" cy="80.8" r="1.45"/><circle cx="342.2" cy="81.9" r="1.45"/><circle cx="341.0" cy="82.9" r="1.45"/><circle cx="339.4" cy="83.4" r="1.45"/><circle cx="341.7" cy="84.9" r="1.45"/><circle cx="340.5" cy="85.6" r="1.45"/><circle cx="338.8" cy="86.2" r="1.45"/><circle cx="341.3" cy="87.2" r="1.45"/><circle cx="339.7" cy="88.8" r="1.45"/><circle cx="342.1" cy="89.1" r="1.45"/><circle cx="340.7" cy="90.4" r="1.45"/><circle cx="339.2" cy="91.3" r="1.45"/><circle cx="341.5" cy="92.6" r="1.45"/><circle cx="340.2" cy="93.2" r="1.45"/><circle cx="342.5" cy="94.0" r="1.45"/><circle cx="341.1" cy="95.1" r="1.45"/><circle cx="339.7" cy="95.8" r="1.45"/><circle cx="341.7" cy="96.9" r="1.45"/><circle cx="340.4" cy="97.8" r="1.45"/><circle cx="338.9" cy="98.6" r="1.45"/><circle cx="341.4" cy="99.9" r="1.45"/><circle cx="339.7" cy="100.8" r="1.45"/><circle cx="342.3" cy="101.6" r="1.45"/><circle cx="340.7" cy="103.1" r="1.45"/><circle cx="339.4" cy="103.5" r="1.45"/><circle cx="341.5" cy="104.6" r="1.45"/><circle cx="340.3" cy="105.4" r="1.45"/><circle cx="338.8" cy="106.9" r="1.45"/><circle cx="341.1" cy="107.5" r="1.45"/><circle cx="339.8" cy="108.3" r="1.45"/><circle cx="349.8" cy="83.2" r="1.45"/><circle cx="352.1" cy="84.3" r="1.45"/><circle cx="350.6" cy="84.9" r="1.45"/><circle cx="349.3" cy="85.7" r="1.45"/><circle cx="351.7" cy="86.8" r="1.45"/><circle cx="350.0" cy="87.7" r="1.45"/><circle cx="348.6" cy="88.7" r="1.45"/><circle cx="350.8" cy="89.6" r="1.45"/><circle cx="349.4" cy="91.0" r="1.45"/><circle cx="351.8" cy="91.6" r="1.45"/><circle cx="350.4" cy="92.7" r="1.45"/><circle cx="349.0" cy="93.8" r="1.45"/><circle cx="351.5" cy="94.6" r="1.45"/><circle cx="349.7" cy="95.9" r="1.45"/><circle cx="348.6" cy="96.9" r="1.45"/><circle cx="350.6" cy="97.8" r="1.45"/><circle cx="349.4" cy="98.8" r="1.45"/><circle cx="351.5" cy="99.1" r="1.45"/><circle cx="350.3" cy="100.8" r="1.45"/><circle cx="348.6" cy="101.3" r="1.45"/><circle cx="351.0" cy="102.1" r="1.45"/><circle cx="349.6" cy="103.6" r="1.45"/><circle cx="352.2" cy="104.1" r="1.45"/><circle cx="350.4" cy="105.6" r="1.45"/><circle cx="361.6" cy="83.1" r="1.45"/><circle cx="360.2" cy="84.1" r="1.45"/><circle cx="358.7" cy="85.1" r="1.45"/><circle cx="361.0" cy="85.6" r="1.45"/><circle cx="359.6" cy="86.7" r="1.45"/><circle cx="362.0" cy="87.6" r="1.45"/><circle cx="360.3" cy="88.6" r="1.45"/><circle cx="358.8" cy="89.2" r="1.45"/><circle cx="361.1" cy="90.4" r="1.45"/><circle cx="359.7" cy="91.3" r="1.45"/><circle cx="358.4" cy="92.2" r="1.45"/><circle cx="360.9" cy="93.1" r="1.45"/><circle cx="359.4" cy="93.6" r="1.45"/><circle cx="361.6" cy="94.9" r="1.45"/><circle cx="360.3" cy="96.0" r="1.45"/><circle cx="358.7" cy="96.7" r="1.45"/><circle cx="360.9" cy="98.0" r="1.45"/><circle cx="359.7" cy="98.7" r="1.45"/><circle cx="358.2" cy="99.1" r="1.45"/><circle cx="360.7" cy="100.6" r="1.45"/><circle cx="359.2" cy="101.2" r="1.45"/><circle cx="361.4" cy="102.3" r="1.45"/><circle cx="358.5" cy="74.5" r="1.45"/><circle cx="371.3" cy="73.2" r="1.45"/><circle cx="369.7" cy="74.8" r="1.45"/><circle cx="368.3" cy="76.0" r="1.45"/><circle cx="370.7" cy="76.8" r="1.45"/><circle cx="369.1" cy="78.2" r="1.45"/><circle cx="371.5" cy="79.0" r="1.45"/><circle cx="370.3" cy="80.2" r="1.45"/><circle cx="368.8" cy="81.1" r="1.45"/><circle cx="371.0" cy="82.3" r="1.45"/><circle cx="369.6" cy="83.3" r="1.45"/><circle cx="368.2" cy="84.9" r="1.45"/><circle cx="370.4" cy="85.9" r="1.45"/><circle cx="368.9" cy="86.6" r="1.45"/><circle cx="371.4" cy="87.9" r="1.45"/><circle cx="369.7" cy="89.2" r="1.45"/><circle cx="368.6" cy="90.2" r="1.45"/><circle cx="370.6" cy="91.2" r="1.45"/><circle cx="369.2" cy="92.1" r="1.45"/><circle cx="368.1" cy="93.1" r="1.45"/><circle cx="370.3" cy="94.5" r="1.45"/><circle cx="369.0" cy="95.8" r="1.45"/><circle cx="371.2" cy="96.7" r="1.45"/><circle cx="369.8" cy="97.9" r="1.45"/><circle cx="368.3" cy="98.9" r="1.45"/><circle cx="370.7" cy="99.7" r="1.45"/><circle cx="369.2" cy="101.0" r="1.45"/><circle cx="371.5" cy="108.0" r="1.45"/><circle cx="380.5" cy="82.0" r="1.45"/></g><rect x="276.24" y="34.5" width="108.90" height="110.90" fill="none" stroke="#000" stroke-width="1.2"/><path d="M272.84 39.80H276.24 M274.24 58.04H276.24 M274.24 53.45H276.24 M274.24 50.19H276.24 M274.24 47.66H276.24 M274.24 45.59H276.24 M274.24 43.84H276.24 M274.24 42.33H276.24 M274.24 40.99H276.24 M272.84 65.90H276.24 M274.24 84.14H276.24 M274.24 79.55H276.24 M274.24 76.29H276.24 M274.24 73.76H276.24 M274.24 71.69H276.24 M274.24 69.94H276.24 M274.24 68.43H276.24 M274.24 67.09H276.24 M272.84 92.00H276.24 M274.24 110.24H276.24 M274.24 105.65H276.24 M274.24 102.39H276.24 M274.24 99.86H276.24 M274.24 97.79H276.24 M274.24 96.04H276.24 M274.24 94.53H276.24 M274.24 93.19H276.24 M272.84 118.10H276.24 M274.24 136.34H276.24 M274.24 131.75H276.24 M274.24 128.49H276.24 M274.24 125.96H276.24 M274.24 123.89H276.24 M274.24 122.14H276.24 M274.24 120.63H276.24 M274.24 119.29H276.24 M272.84 144.20H276.24" stroke="#000" stroke-width="0.9" fill="none"/><g fill="#eef2fa" stroke="#2c4778" stroke-width="1.05"><circle cx="280.5" cy="204.7" r="1.45"/><circle cx="283.2" cy="206.0" r="1.45"/><circle cx="281.6" cy="206.6" r="1.45"/><circle cx="284.1" cy="207.5" r="1.45"/><circle cx="282.4" cy="208.1" r="1.45"/><circle cx="281.0" cy="208.7" r="1.45"/><circle cx="283.4" cy="209.4" r="1.45"/><circle cx="282.1" cy="210.5" r="1.45"/><circle cx="280.5" cy="210.8" r="1.45"/><circle cx="282.7" cy="211.5" r="1.45"/><circle cx="281.4" cy="212.9" r="1.45"/><circle cx="283.7" cy="213.8" r="1.45"/><circle cx="282.3" cy="213.8" r="1.45"/><circle cx="281.0" cy="215.0" r="1.45"/><circle cx="283.2" cy="216.1" r="1.45"/><circle cx="281.6" cy="216.4" r="1.45"/><circle cx="284.0" cy="217.4" r="1.45"/><circle cx="282.5" cy="217.8" r="1.45"/><circle cx="281.3" cy="218.4" r="1.45"/><circle cx="283.7" cy="219.3" r="1.45"/><circle cx="282.2" cy="220.0" r="1.45"/><circle cx="280.5" cy="220.8" r="1.45"/><circle cx="282.9" cy="222.1" r="1.45"/><circle cx="281.4" cy="222.8" r="1.45"/><circle cx="284.0" cy="223.1" r="1.45"/><circle cx="282.6" cy="224.4" r="1.45"/><circle cx="280.8" cy="225.1" r="1.45"/><circle cx="283.4" cy="225.8" r="1.45"/><circle cx="282.1" cy="226.5" r="1.45"/><circle cx="280.6" cy="227.1" r="1.45"/><circle cx="282.6" cy="228.2" r="1.45"/><circle cx="281.4" cy="228.4" r="1.45"/><circle cx="283.5" cy="229.8" r="1.45"/><circle cx="282.3" cy="230.2" r="1.45"/><circle cx="280.9" cy="230.8" r="1.45"/><circle cx="282.9" cy="231.9" r="1.45"/><circle cx="281.7" cy="232.5" r="1.45"/><circle cx="284.1" cy="233.4" r="1.45"/><circle cx="282.7" cy="233.9" r="1.45"/><circle cx="281.2" cy="234.8" r="1.45"/><circle cx="283.4" cy="235.8" r="1.45"/><circle cx="282.1" cy="236.4" r="1.45"/><circle cx="280.7" cy="237.6" r="1.45"/><circle cx="282.8" cy="238.1" r="1.45"/><circle cx="281.7" cy="238.4" r="1.45"/><circle cx="283.9" cy="239.7" r="1.45"/><circle cx="282.4" cy="240.2" r="1.45"/><circle cx="281.0" cy="241.5" r="1.45"/><circle cx="283.2" cy="241.9" r="1.45"/><circle cx="282.0" cy="242.6" r="1.45"/><circle cx="280.4" cy="243.3" r="1.45"/><circle cx="282.9" cy="244.2" r="1.45"/><circle cx="281.2" cy="245.2" r="1.45"/><circle cx="283.5" cy="245.3" r="1.45"/><circle cx="282.2" cy="246.4" r="1.45"/><circle cx="280.8" cy="247.5" r="1.45"/><circle cx="283.2" cy="247.6" r="1.45"/><circle cx="281.7" cy="249.0" r="1.45"/><circle cx="283.8" cy="249.6" r="1.45"/><circle cx="282.6" cy="250.6" r="1.45"/><circle cx="281.2" cy="251.2" r="1.45"/><circle cx="283.2" cy="251.7" r="1.45"/><circle cx="282.1" cy="252.7" r="1.45"/><circle cx="280.6" cy="253.1" r="1.45"/><circle cx="282.7" cy="254.5" r="1.45"/><circle cx="281.5" cy="255.0" r="1.45"/><circle cx="281.0" cy="200.4" r="1.45"/><circle cx="291.7" cy="201.6" r="1.45"/><circle cx="290.5" cy="202.9" r="1.45"/><circle cx="292.6" cy="203.5" r="1.45"/><circle cx="291.4" cy="204.6" r="1.45"/><circle cx="293.7" cy="205.0" r="1.45"/><circle cx="292.3" cy="206.4" r="1.45"/><circle cx="290.7" cy="207.0" r="1.45"/><circle cx="292.9" cy="207.9" r="1.45"/><circle cx="291.5" cy="208.4" r="1.45"/><circle cx="290.1" cy="209.7" r="1.45"/><circle cx="292.5" cy="210.4" r="1.45"/><circle cx="290.9" cy="211.2" r="1.45"/><circle cx="293.6" cy="211.7" r="1.45"/><circle cx="291.8" cy="212.8" r="1.45"/><circle cx="290.6" cy="213.9" r="1.45"/><circle cx="292.9" cy="214.4" r="1.45"/><circle cx="291.4" cy="215.4" r="1.45"/><circle cx="293.6" cy="216.0" r="1.45"/><circle cx="292.4" cy="217.6" r="1.45"/><circle cx="290.9" cy="218.0" r="1.45"/><circle cx="293.3" cy="218.7" r="1.45"/><circle cx="291.9" cy="219.7" r="1.45"/><circle cx="290.4" cy="220.8" r="1.45"/><circle cx="292.5" cy="221.8" r="1.45"/><circle cx="291.1" cy="221.9" r="1.45"/><circle cx="293.4" cy="222.9" r="1.45"/><circle cx="292.1" cy="223.7" r="1.45"/><circle cx="290.6" cy="225.2" r="1.45"/><circle cx="293.2" cy="226.1" r="1.45"/><circle cx="291.6" cy="226.2" r="1.45"/><circle cx="289.9" cy="227.4" r="1.45"/><circle cx="292.3" cy="228.7" r="1.45"/><circle cx="291.0" cy="229.2" r="1.45"/><circle cx="293.4" cy="230.4" r="1.45"/><circle cx="291.9" cy="230.8" r="1.45"/><circle cx="290.6" cy="231.4" r="1.45"/><circle cx="292.7" cy="233.0" r="1.45"/><circle cx="291.2" cy="233.1" r="1.45"/><circle cx="293.8" cy="234.2" r="1.45"/><circle cx="292.4" cy="235.5" r="1.45"/><circle cx="290.9" cy="235.6" r="1.45"/><circle cx="293.2" cy="237.0" r="1.45"/><circle cx="291.5" cy="238.1" r="1.45"/><circle cx="290.3" cy="238.3" r="1.45"/><circle cx="292.6" cy="239.7" r="1.45"/><circle cx="291.1" cy="240.1" r="1.45"/><circle cx="293.3" cy="241.3" r="1.45"/><circle cx="291.9" cy="241.8" r="1.45"/><circle cx="290.6" cy="242.5" r="1.45"/><circle cx="292.8" cy="243.4" r="1.45"/><circle cx="291.5" cy="244.2" r="1.45"/><circle cx="293.9" cy="245.0" r="1.45"/><circle cx="300.7" cy="205.8" r="1.45"/><circle cx="303.0" cy="206.8" r="1.45"/><circle cx="301.6" cy="208.1" r="1.45"/><circle cx="299.9" cy="208.4" r="1.45"/><circle cx="302.5" cy="209.2" r="1.45"/><circle cx="300.9" cy="210.7" r="1.45"/><circle cx="303.1" cy="211.3" r="1.45"/><circle cx="301.8" cy="212.4" r="1.45"/><circle cx="300.2" cy="213.1" r="1.45"/><circle cx="302.5" cy="213.7" r="1.45"/><circle cx="301.2" cy="214.9" r="1.45"/><circle cx="303.7" cy="215.3" r="1.45"/><circle cx="302.1" cy="216.3" r="1.45"/><circle cx="300.6" cy="217.0" r="1.45"/><circle cx="302.9" cy="218.4" r="1.45"/><circle cx="301.5" cy="218.8" r="1.45"/><circle cx="300.3" cy="219.8" r="1.45"/><circle cx="302.6" cy="220.5" r="1.45"/><circle cx="301.2" cy="221.3" r="1.45"/><circle cx="303.2" cy="222.6" r="1.45"/><circle cx="301.8" cy="223.3" r="1.45"/><circle cx="300.3" cy="224.0" r="1.45"/><circle cx="303.0" cy="225.0" r="1.45"/><circle cx="301.5" cy="226.3" r="1.45"/><circle cx="299.8" cy="226.5" r="1.45"/><circle cx="302.1" cy="228.0" r="1.45"/><circle cx="300.7" cy="228.7" r="1.45"/><circle cx="302.9" cy="229.7" r="1.45"/><circle cx="301.6" cy="230.5" r="1.45"/><circle cx="300.0" cy="230.8" r="1.45"/><circle cx="302.6" cy="232.2" r="1.45"/><circle cx="301.1" cy="232.6" r="1.45"/><circle cx="303.4" cy="234.0" r="1.45"/><circle cx="301.9" cy="234.6" r="1.45"/><circle cx="300.7" cy="235.1" r="1.45"/><circle cx="302.8" cy="236.4" r="1.45"/><circle cx="301.3" cy="236.8" r="1.45"/><circle cx="300.0" cy="238.1" r="1.45"/><circle cx="302.0" cy="197.8" r="1.45"/><circle cx="310.6" cy="201.7" r="1.45"/><circle cx="313.0" cy="203.0" r="1.45"/><circle cx="311.3" cy="203.9" r="1.45"/><circle cx="310.1" cy="204.5" r="1.45"/><circle cx="312.4" cy="205.7" r="1.45"/><circle cx="311.0" cy="206.4" r="1.45"/><circle cx="313.4" cy="207.6" r="1.45"/><circle cx="311.8" cy="209.0" r="1.45"/><circle cx="310.5" cy="209.3" r="1.45"/><circle cx="312.8" cy="210.6" r="1.45"/><circle cx="311.1" cy="211.4" r="1.45"/><circle cx="309.7" cy="212.8" r="1.45"/><circle cx="312.1" cy="213.3" r="1.45"/><circle cx="310.5" cy="214.6" r="1.45"/><circle cx="313.0" cy="215.5" r="1.45"/><circle cx="311.4" cy="216.5" r="1.45"/><circle cx="310.2" cy="217.6" r="1.45"/><circle cx="312.4" cy="218.7" r="1.45"/><circle cx="311.0" cy="219.6" r="1.45"/><circle cx="309.4" cy="220.6" r="1.45"/><circle cx="312.1" cy="221.6" r="1.45"/><circle cx="310.5" cy="222.3" r="1.45"/><circle cx="312.8" cy="223.3" r="1.45"/><circle cx="311.5" cy="223.9" r="1.45"/><circle cx="309.8" cy="225.0" r="1.45"/><circle cx="309.8" cy="230.4" r="1.45"/><circle cx="313.4" cy="230.4" r="1.45"/><circle cx="319.7" cy="201.8" r="1.45"/><circle cx="321.8" cy="202.8" r="1.45"/><circle cx="320.4" cy="204.5" r="1.45"/><circle cx="322.9" cy="205.2" r="1.45"/><circle cx="321.4" cy="206.8" r="1.45"/><circle cx="319.8" cy="208.1" r="1.45"/><circle cx="322.4" cy="209.4" r="1.45"/><circle cx="320.7" cy="209.9" r="1.45"/><circle cx="319.4" cy="211.4" r="1.45"/><circle cx="321.6" cy="212.5" r="1.45"/><circle cx="320.2" cy="213.7" r="1.45"/><circle cx="322.8" cy="215.1" r="1.45"/><circle cx="321.2" cy="215.9" r="1.45"/><circle cx="319.6" cy="217.6" r="1.45"/><circle cx="322.3" cy="218.8" r="1.45"/><circle cx="320.6" cy="219.6" r="1.45"/><circle cx="323.0" cy="221.2" r="1.45"/><circle cx="320.0" cy="225.7" r="1.45"/><circle cx="330.6" cy="203.5" r="1.45"/><circle cx="328.9" cy="204.3" r="1.45"/><circle cx="331.3" cy="205.6" r="1.45"/><circle cx="330.0" cy="207.4" r="1.45"/><circle cx="332.4" cy="208.7" r="1.45"/><circle cx="330.6" cy="209.9" r="1.45"/><circle cx="329.5" cy="211.0" r="1.45"/><circle cx="331.6" cy="212.6" r="1.45"/><circle cx="330.3" cy="213.5" r="1.45"/><circle cx="332.6" cy="214.7" r="1.45"/><circle cx="331.1" cy="215.8" r="1.45"/><circle cx="329.5" cy="217.5" r="1.45"/><circle cx="332.2" cy="218.5" r="1.45"/><circle cx="331.0" cy="196.6" r="1.45"/><circle cx="332.0" cy="228.5" r="1.45"/><circle cx="341.7" cy="205.6" r="1.45"/><circle cx="340.3" cy="206.8" r="1.45"/><circle cx="338.5" cy="208.2" r="1.45"/><circle cx="341.0" cy="209.4" r="1.45"/><circle cx="339.0" cy="217.7" r="1.45"/><circle cx="350.5" cy="216.9" r="1.45"/><circle cx="359.5" cy="213.0" r="1.45"/><circle cx="368.0" cy="204.6" r="1.45"/><circle cx="369.5" cy="200.4" r="1.45"/><circle cx="371.0" cy="212.0" r="1.45"/></g><rect x="276.24" y="149.3" width="108.90" height="110.50" fill="none" stroke="#000" stroke-width="1.2"/><path d="M272.84 154.60H276.24 M274.24 172.84H276.24 M274.24 168.25H276.24 M274.24 164.99H276.24 M274.24 162.46H276.24 M274.24 160.39H276.24 M274.24 158.64H276.24 M274.24 157.13H276.24 M274.24 155.79H276.24 M272.84 180.70H276.24 M274.24 198.94H276.24 M274.24 194.35H276.24 M274.24 191.09H276.24 M274.24 188.56H276.24 M274.24 186.49H276.24 M274.24 184.74H276.24 M274.24 183.23H276.24 M274.24 181.89H276.24 M272.84 206.80H276.24 M274.24 225.04H276.24 M274.24 220.45H276.24 M274.24 217.19H276.24 M274.24 214.66H276.24 M274.24 212.59H276.24 M274.24 210.84H276.24 M274.24 209.33H276.24 M274.24 207.99H276.24 M272.84 232.90H276.24 M274.24 251.14H276.24 M274.24 246.55H276.24 M274.24 243.29H276.24 M274.24 240.76H276.24 M274.24 238.69H276.24 M274.24 236.94H276.24 M274.24 235.43H276.24 M274.24 234.09H276.24 M272.84 259.00H276.24" stroke="#000" stroke-width="0.9" fill="none"/><path d="M282.24 259.80V263.00 M291.96 259.80V263.00 M301.68 259.80V263.00 M311.40 259.80V263.00 M321.12 259.80V263.00 M330.84 259.80V263.00 M340.56 259.80V263.00 M350.28 259.80V263.00 M360.00 259.80V263.00 M369.72 259.80V263.00 M379.44 259.80V263.00" stroke="#000" stroke-width="1.0" fill="none"/><text transform="translate(285.24,269.00) rotate(-45)" text-anchor="end" font-family='"Liberation Sans", sans-serif' font-size="6.4" fill="#1e1e1e">2</text><text transform="translate(294.96,269.00) rotate(-45)" text-anchor="end" font-family='"Liberation Sans", sans-serif' font-size="6.4" fill="#1e1e1e">3</text><text transform="translate(304.68,269.00) rotate(-45)" text-anchor="end" font-family='"Liberation Sans", sans-serif' font-size="6.4" fill="#1e1e1e">4</text><text transform="translate(314.40,269.00) rotate(-45)" text-anchor="end" font-family='"Liberation Sans", sans-serif' font-size="6.4" fill="#1e1e1e">5</text><text transform="translate(324.12,269.00) rotate(-45)" text-anchor="end" font-family='"Liberation Sans", sans-serif' font-size="6.4" fill="#1e1e1e">6</text><text transform="translate(333.84,269.00) rotate(-45)" text-anchor="end" font-family='"Liberation Sans", sans-serif' font-size="6.4" fill="#1e1e1e">7</text><text transform="translate(343.56,269.00) rotate(-45)" text-anchor="end" font-family='"Liberation Sans", sans-serif' font-size="6.4" fill="#1e1e1e">8</text><text transform="translate(353.28,269.00) rotate(-45)" text-anchor="end" font-family='"Liberation Sans", sans-serif' font-size="6.4" fill="#1e1e1e">9</text><text transform="translate(363.00,269.00) rotate(-45)" text-anchor="end" font-family='"Liberation Sans", sans-serif' font-size="6.4" fill="#1e1e1e">10</text><text transform="translate(372.72,269.00) rotate(-45)" text-anchor="end" font-family='"Liberation Sans", sans-serif' font-size="6.4" fill="#1e1e1e">11-30</text><text transform="translate(382.44,269.00) rotate(-45)" text-anchor="end" font-family='"Liberation Sans", sans-serif' font-size="6.4" fill="#1e1e1e">&gt;30</text><rect x="392.11" y="23.0" width="108.90" height="11.50" fill="#c4c4c8" stroke="#000" stroke-width="1.2"/><text x="446.56" y="31.55" text-anchor="middle" font-family='"Liberation Sans", sans-serif' font-size="8.6" fill="#1a1a1a">NCSM</text><g fill="#fff3f6" stroke="#a3153d" stroke-width="1.25"><circle cx="398.8" cy="74.1" r="1.45"/><circle cx="397.4" cy="75.3" r="1.45"/><circle cx="399.7" cy="75.4" r="1.45"/><circle cx="398.4" cy="76.2" r="1.45"/><circle cx="396.7" cy="76.7" r="1.45"/><circle cx="399.0" cy="77.7" r="1.45"/><circle cx="397.9" cy="78.3" r="1.45"/><circle cx="396.1" cy="78.9" r="1.45"/><circle cx="398.6" cy="79.5" r="1.45"/><circle cx="397.0" cy="79.9" r="1.45"/><circle cx="399.4" cy="80.5" r="1.45"/><circle cx="397.9" cy="81.4" r="1.45"/><circle cx="396.4" cy="81.9" r="1.45"/><circle cx="399.1" cy="82.8" r="1.45"/><circle cx="397.5" cy="83.5" r="1.45"/><circle cx="399.7" cy="84.1" r="1.45"/><circle cx="398.3" cy="84.8" r="1.45"/><circle cx="397.0" cy="85.3" r="1.45"/><circle cx="399.2" cy="85.9" r="1.45"/><circle cx="397.7" cy="86.4" r="1.45"/><circle cx="396.3" cy="87.2" r="1.45"/><circle cx="398.5" cy="88.0" r="1.45"/><circle cx="397.4" cy="88.4" r="1.45"/><circle cx="399.6" cy="89.0" r="1.45"/><circle cx="398.1" cy="89.8" r="1.45"/><circle cx="396.6" cy="90.9" r="1.45"/><circle cx="398.9" cy="91.3" r="1.45"/><circle cx="397.7" cy="91.4" r="1.45"/><circle cx="399.8" cy="92.4" r="1.45"/><circle cx="398.5" cy="93.0" r="1.45"/><circle cx="396.9" cy="93.9" r="1.45"/><circle cx="399.6" cy="94.1" r="1.45"/><circle cx="397.8" cy="95.2" r="1.45"/><circle cx="396.4" cy="95.5" r="1.45"/><circle cx="398.9" cy="96.4" r="1.45"/><circle cx="397.5" cy="97.2" r="1.45"/><circle cx="399.8" cy="97.6" r="1.45"/><circle cx="398.4" cy="98.4" r="1.45"/><circle cx="396.9" cy="98.8" r="1.45"/><circle cx="399.3" cy="99.7" r="1.45"/><circle cx="397.9" cy="99.9" r="1.45"/><circle cx="396.4" cy="100.4" r="1.45"/><circle cx="398.6" cy="101.5" r="1.45"/><circle cx="397.2" cy="102.5" r="1.45"/><circle cx="399.6" cy="102.7" r="1.45"/><circle cx="398.1" cy="103.7" r="1.45"/><circle cx="396.6" cy="103.9" r="1.45"/><circle cx="399.1" cy="104.6" r="1.45"/><circle cx="397.5" cy="105.2" r="1.45"/><circle cx="399.8" cy="106.0" r="1.45"/><circle cx="398.5" cy="106.5" r="1.45"/><circle cx="397.0" cy="107.5" r="1.45"/><circle cx="399.2" cy="107.9" r="1.45"/><circle cx="397.7" cy="108.4" r="1.45"/><circle cx="396.4" cy="109.3" r="1.45"/><circle cx="398.9" cy="109.5" r="1.45"/><circle cx="397.4" cy="110.3" r="1.45"/><circle cx="399.8" cy="111.4" r="1.45"/><circle cx="398.2" cy="111.5" r="1.45"/><circle cx="396.6" cy="112.7" r="1.45"/><circle cx="399.1" cy="112.7" r="1.45"/><circle cx="397.8" cy="113.7" r="1.45"/><circle cx="400.0" cy="114.6" r="1.45"/><circle cx="398.6" cy="115.4" r="1.45"/><circle cx="397.2" cy="115.7" r="1.45"/><circle cx="399.4" cy="116.2" r="1.45"/><circle cx="397.9" cy="117.0" r="1.45"/><circle cx="396.6" cy="117.9" r="1.45"/><circle cx="398.7" cy="118.3" r="1.45"/><circle cx="397.4" cy="118.8" r="1.45"/><circle cx="399.8" cy="119.6" r="1.45"/><circle cx="398.5" cy="120.5" r="1.45"/><circle cx="396.9" cy="120.8" r="1.45"/><circle cx="399.4" cy="121.6" r="1.45"/><circle cx="397.8" cy="122.0" r="1.45"/><circle cx="396.2" cy="123.0" r="1.45"/><circle cx="398.9" cy="123.3" r="1.45"/><circle cx="397.2" cy="124.3" r="1.45"/><circle cx="399.7" cy="124.4" r="1.45"/><circle cx="398.3" cy="125.5" r="1.45"/><circle cx="396.8" cy="126.4" r="1.45"/><circle cx="398.9" cy="126.6" r="1.45"/><circle cx="397.6" cy="127.1" r="1.45"/><circle cx="399.8" cy="127.9" r="1.45"/><circle cx="398.5" cy="128.3" r="1.45"/><circle cx="397.0" cy="129.3" r="1.45"/><circle cx="399.4" cy="130.2" r="1.45"/><circle cx="397.9" cy="130.1" r="1.45"/><circle cx="396.4" cy="131.4" r="1.45"/><circle cx="398.6" cy="131.9" r="1.45"/><circle cx="397.5" cy="132.3" r="1.45"/><circle cx="399.8" cy="133.2" r="1.45"/><circle cx="398.3" cy="133.5" r="1.45"/><circle cx="396.7" cy="134.4" r="1.45"/><circle cx="399.2" cy="135.1" r="1.45"/><circle cx="397.7" cy="136.1" r="1.45"/><circle cx="396.1" cy="136.2" r="1.45"/><circle cx="398.7" cy="136.7" r="1.45"/><circle cx="397.0" cy="137.3" r="1.45"/><circle cx="399.5" cy="138.0" r="1.45"/><circle cx="398.1" cy="139.2" r="1.45"/><circle cx="396.4" cy="139.8" r="1.45"/><circle cx="399.0" cy="139.8" r="1.45"/><circle cx="397.6" cy="140.7" r="1.45"/><circle cx="399.7" cy="141.4" r="1.45"/><circle cx="399.0" cy="65.0" r="1.45"/><circle cx="398.0" cy="69.9" r="1.45"/><circle cx="407.1" cy="77.3" r="1.45"/><circle cx="409.2" cy="78.4" r="1.45"/><circle cx="407.8" cy="79.0" r="1.45"/><circle cx="406.5" cy="79.4" r="1.45"/><circle cx="408.9" cy="80.5" r="1.45"/><circle cx="407.3" cy="81.1" r="1.45"/><circle cx="409.5" cy="81.6" r="1.45"/><circle cx="408.3" cy="82.9" r="1.45"/><circle cx="406.9" cy="83.1" r="1.45"/><circle cx="409.0" cy="84.2" r="1.45"/><circle cx="407.8" cy="84.7" r="1.45"/><circle cx="406.4" cy="85.3" r="1.45"/><circle cx="408.5" cy="85.8" r="1.45"/><circle cx="407.0" cy="86.9" r="1.45"/><circle cx="409.6" cy="87.2" r="1.45"/><circle cx="408.1" cy="88.1" r="1.45"/><circle cx="406.4" cy="88.6" r="1.45"/><circle cx="408.7" cy="89.4" r="1.45"/><circle cx="407.3" cy="90.6" r="1.45"/><circle cx="405.8" cy="90.9" r="1.45"/><circle cx="408.3" cy="91.6" r="1.45"/><circle cx="406.7" cy="92.2" r="1.45"/><circle cx="409.3" cy="92.7" r="1.45"/><circle cx="407.7" cy="93.5" r="1.45"/><circle cx="406.2" cy="94.1" r="1.45"/><circle cx="408.5" cy="94.8" r="1.45"/><circle cx="407.1" cy="95.9" r="1.45"/><circle cx="409.6" cy="96.2" r="1.45"/><circle cx="408.0" cy="96.8" r="1.45"/><circle cx="406.5" cy="98.1" r="1.45"/><circle cx="409.1" cy="98.5" r="1.45"/><circle cx="407.4" cy="99.5" r="1.45"/><circle cx="406.2" cy="99.8" r="1.45"/><circle cx="408.6" cy="100.5" r="1.45"/><circle cx="407.2" cy="101.1" r="1.45"/><circle cx="409.2" cy="102.0" r="1.45"/><circle cx="407.7" cy="102.7" r="1.45"/><circle cx="406.3" cy="103.6" r="1.45"/><circle cx="408.8" cy="104.4" r="1.45"/><circle cx="407.2" cy="104.7" r="1.45"/><circle cx="409.6" cy="105.6" r="1.45"/><circle cx="408.1" cy="106.5" r="1.45"/><circle cx="406.8" cy="106.9" r="1.45"/><circle cx="409.2" cy="107.4" r="1.45"/><circle cx="407.7" cy="108.2" r="1.45"/><circle cx="406.2" cy="109.0" r="1.45"/><circle cx="408.4" cy="109.6" r="1.45"/><circle cx="407.3" cy="110.1" r="1.45"/><circle cx="409.5" cy="110.9" r="1.45"/><circle cx="408.0" cy="111.5" r="1.45"/><circle cx="406.6" cy="112.4" r="1.45"/><circle cx="408.7" cy="113.0" r="1.45"/><circle cx="407.4" cy="113.7" r="1.45"/><circle cx="406.1" cy="114.3" r="1.45"/><circle cx="408.3" cy="115.1" r="1.45"/><circle cx="407.0" cy="116.3" r="1.45"/><circle cx="409.4" cy="116.9" r="1.45"/><circle cx="407.7" cy="117.0" r="1.45"/><circle cx="406.4" cy="117.7" r="1.45"/><circle cx="408.6" cy="118.9" r="1.45"/><circle cx="407.3" cy="119.4" r="1.45"/><circle cx="409.5" cy="120.3" r="1.45"/><circle cx="408.1" cy="121.1" r="1.45"/><circle cx="406.6" cy="121.6" r="1.45"/><circle cx="409.2" cy="121.9" r="1.45"/><circle cx="407.7" cy="123.1" r="1.45"/><circle cx="406.0" cy="123.2" r="1.45"/><circle cx="408.4" cy="124.0" r="1.45"/><circle cx="407.0" cy="124.8" r="1.45"/><circle cx="409.3" cy="125.3" r="1.45"/><circle cx="407.8" cy="126.5" r="1.45"/><circle cx="406.5" cy="127.4" r="1.45"/><circle cx="408.7" cy="128.0" r="1.45"/><circle cx="407.5" cy="128.4" r="1.45"/><circle cx="405.7" cy="129.1" r="1.45"/><circle cx="408.4" cy="130.1" r="1.45"/><circle cx="406.6" cy="130.4" r="1.45"/><circle cx="409.2" cy="131.5" r="1.45"/><circle cx="407.6" cy="131.6" r="1.45"/><circle cx="406.4" cy="132.3" r="1.45"/><circle cx="408.8" cy="133.1" r="1.45"/><circle cx="407.0" cy="134.3" r="1.45"/><circle cx="406.0" cy="72.6" r="1.45"/><circle cx="409.0" cy="137.0" r="1.45"/><circle cx="418.4" cy="79.7" r="1.45"/><circle cx="416.8" cy="80.8" r="1.45"/><circle cx="419.4" cy="80.9" r="1.45"/><circle cx="417.9" cy="81.9" r="1.45"/><circle cx="416.4" cy="82.9" r="1.45"/><circle cx="418.7" cy="83.7" r="1.45"/><circle cx="417.0" cy="84.1" r="1.45"/><circle cx="415.7" cy="85.1" r="1.45"/><circle cx="418.2" cy="85.7" r="1.45"/><circle cx="416.7" cy="86.1" r="1.45"/><circle cx="419.1" cy="86.8" r="1.45"/><circle cx="417.4" cy="88.1" r="1.45"/><circle cx="416.3" cy="88.6" r="1.45"/><circle cx="418.4" cy="89.5" r="1.45"/><circle cx="416.8" cy="89.9" r="1.45"/><circle cx="419.3" cy="90.7" r="1.45"/><circle cx="417.8" cy="91.3" r="1.45"/><circle cx="416.5" cy="92.0" r="1.45"/><circle cx="418.7" cy="93.2" r="1.45"/><circle cx="417.3" cy="93.6" r="1.45"/><circle cx="416.0" cy="94.5" r="1.45"/><circle cx="418.1" cy="95.1" r="1.45"/><circle cx="416.6" cy="96.3" r="1.45"/><circle cx="419.0" cy="96.8" r="1.45"/><circle cx="417.7" cy="97.7" r="1.45"/><circle cx="416.1" cy="98.4" r="1.45"/><circle cx="418.6" cy="99.0" r="1.45"/><circle cx="417.2" cy="99.6" r="1.45"/><circle cx="419.3" cy="100.7" r="1.45"/><circle cx="417.9" cy="101.0" r="1.45"/><circle cx="416.4" cy="101.6" r="1.45"/><circle cx="418.8" cy="102.4" r="1.45"/><circle cx="417.4" cy="103.5" r="1.45"/><circle cx="415.9" cy="103.8" r="1.45"/><circle cx="418.3" cy="104.8" r="1.45"/><circle cx="416.7" cy="105.3" r="1.45"/><circle cx="419.4" cy="105.9" r="1.45"/><circle cx="417.6" cy="107.2" r="1.45"/><circle cx="416.5" cy="107.9" r="1.45"/><circle cx="418.5" cy="108.5" r="1.45"/><circle cx="417.2" cy="109.2" r="1.45"/><circle cx="415.8" cy="109.7" r="1.45"/><circle cx="418.3" cy="110.3" r="1.45"/><circle cx="416.7" cy="111.5" r="1.45"/><circle cx="419.1" cy="112.5" r="1.45"/><circle cx="417.5" cy="112.7" r="1.45"/><circle cx="415.9" cy="113.4" r="1.45"/><circle cx="418.6" cy="114.6" r="1.45"/><circle cx="416.9" cy="115.0" r="1.45"/><circle cx="419.5" cy="116.0" r="1.45"/><circle cx="417.8" cy="116.9" r="1.45"/><circle cx="416.6" cy="117.6" r="1.45"/><circle cx="418.7" cy="118.3" r="1.45"/><circle cx="417.5" cy="118.5" r="1.45"/><circle cx="415.9" cy="119.4" r="1.45"/><circle cx="418.2" cy="120.3" r="1.45"/><circle cx="416.7" cy="121.3" r="1.45"/><circle cx="419.2" cy="121.4" r="1.45"/><circle cx="417.8" cy="122.6" r="1.45"/><circle cx="416.4" cy="123.4" r="1.45"/><circle cx="418.6" cy="124.3" r="1.45"/><circle cx="417.0" cy="124.7" r="1.45"/><circle cx="415.7" cy="125.3" r="1.45"/><circle cx="418.1" cy="125.8" r="1.45"/><circle cx="416.6" cy="126.6" r="1.45"/><circle cx="418.8" cy="128.0" r="1.45"/><circle cx="418.0" cy="129.5" r="1.45"/><circle cx="425.4" cy="75.5" r="1.45"/><circle cx="427.7" cy="76.5" r="1.45"/><circle cx="426.6" cy="77.4" r="1.45"/><circle cx="428.7" cy="78.1" r="1.45"/><circle cx="427.4" cy="78.5" r="1.45"/><circle cx="425.8" cy="79.4" r="1.45"/><circle cx="428.2" cy="80.1" r="1.45"/><circle cx="426.9" cy="81.1" r="1.45"/><circle cx="429.0" cy="82.1" r="1.45"/><circle cx="427.6" cy="82.3" r="1.45"/><circle cx="426.1" cy="83.3" r="1.45"/><circle cx="428.4" cy="83.8" r="1.45"/><circle cx="427.1" cy="84.7" r="1.45"/><circle cx="425.8" cy="86.0" r="1.45"/><circle cx="428.2" cy="86.7" r="1.45"/><circle cx="426.6" cy="87.5" r="1.45"/><circle cx="428.7" cy="88.1" r="1.45"/><circle cx="427.5" cy="88.8" r="1.45"/><circle cx="426.0" cy="89.3" r="1.45"/><circle cx="428.3" cy="90.6" r="1.45"/><circle cx="426.8" cy="91.1" r="1.45"/><circle cx="425.6" cy="91.6" r="1.45"/><circle cx="427.7" cy="92.1" r="1.45"/><circle cx="426.3" cy="93.4" r="1.45"/><circle cx="428.8" cy="93.7" r="1.45"/><circle cx="427.3" cy="94.7" r="1.45"/><circle cx="425.8" cy="95.5" r="1.45"/><circle cx="428.1" cy="96.4" r="1.45"/><circle cx="426.6" cy="96.8" r="1.45"/><circle cx="429.0" cy="98.2" r="1.45"/><circle cx="427.7" cy="98.4" r="1.45"/><circle cx="426.0" cy="99.2" r="1.45"/><circle cx="428.4" cy="100.2" r="1.45"/><circle cx="427.0" cy="101.0" r="1.45"/><circle cx="425.6" cy="101.5" r="1.45"/><circle cx="427.9" cy="102.2" r="1.45"/><circle cx="426.3" cy="103.4" r="1.45"/><circle cx="428.6" cy="104.0" r="1.45"/><circle cx="427.5" cy="104.8" r="1.45"/><circle cx="426.0" cy="105.6" r="1.45"/><circle cx="428.1" cy="106.6" r="1.45"/><circle cx="426.9" cy="107.5" r="1.45"/><circle cx="429.3" cy="107.6" r="1.45"/><circle cx="427.6" cy="108.6" r="1.45"/><circle cx="426.3" cy="109.8" r="1.45"/><circle cx="428.5" cy="110.4" r="1.45"/><circle cx="427.0" cy="111.2" r="1.45"/><circle cx="425.7" cy="111.6" r="1.45"/><circle cx="428.1" cy="112.1" r="1.45"/><circle cx="426.5" cy="113.1" r="1.45"/><circle cx="428.9" cy="114.2" r="1.45"/><circle cx="427.5" cy="115.2" r="1.45"/><circle cx="426.1" cy="115.9" r="1.45"/><circle cx="428.5" cy="116.7" r="1.45"/><circle cx="427.0" cy="116.9" r="1.45"/><circle cx="425.6" cy="117.8" r="1.45"/><circle cx="428.0" cy="118.8" r="1.45"/><circle cx="426.3" cy="119.2" r="1.45"/><circle cx="428.9" cy="120.4" r="1.45"/><circle cx="427.1" cy="121.2" r="1.45"/><circle cx="425.7" cy="121.8" r="1.45"/><circle cx="428.3" cy="122.6" r="1.45"/><circle cx="426.9" cy="123.0" r="1.45"/><circle cx="429.0" cy="124.2" r="1.45"/><circle cx="427.6" cy="124.6" r="1.45"/><circle cx="426.2" cy="125.9" r="1.45"/><circle cx="428.0" cy="72.0" r="1.45"/><circle cx="435.4" cy="80.5" r="1.45"/><circle cx="437.7" cy="82.0" r="1.45"/><circle cx="436.3" cy="82.6" r="1.45"/><circle cx="438.7" cy="83.5" r="1.45"/><circle cx="437.5" cy="83.9" r="1.45"/><circle cx="435.9" cy="85.0" r="1.45"/><circle cx="438.4" cy="86.0" r="1.45"/><circle cx="436.7" cy="86.2" r="1.45"/><circle cx="435.3" cy="87.2" r="1.45"/><circle cx="437.8" cy="88.5" r="1.45"/><circle cx="436.1" cy="88.7" r="1.45"/><circle cx="438.6" cy="90.1" r="1.45"/><circle cx="437.1" cy="90.6" r="1.45"/><circle cx="435.8" cy="91.2" r="1.45"/><circle cx="438.2" cy="92.2" r="1.45"/><circle cx="436.4" cy="93.2" r="1.45"/><circle cx="435.0" cy="93.8" r="1.45"/><circle cx="437.5" cy="95.1" r="1.45"/><circle cx="435.9" cy="95.2" r="1.45"/><circle cx="438.3" cy="96.3" r="1.45"/><circle cx="436.8" cy="97.3" r="1.45"/><circle cx="435.2" cy="97.9" r="1.45"/><circle cx="437.7" cy="98.9" r="1.45"/><circle cx="436.3" cy="99.3" r="1.45"/><circle cx="438.5" cy="100.9" r="1.45"/><circle cx="437.3" cy="101.0" r="1.45"/><circle cx="435.7" cy="101.9" r="1.45"/><circle cx="438.0" cy="102.9" r="1.45"/><circle cx="436.7" cy="103.8" r="1.45"/><circle cx="435.4" cy="104.9" r="1.45"/><circle cx="437.6" cy="105.0" r="1.45"/><circle cx="436.3" cy="106.4" r="1.45"/><circle cx="438.5" cy="107.2" r="1.45"/><circle cx="437.0" cy="107.9" r="1.45"/><circle cx="435.7" cy="108.5" r="1.45"/><circle cx="438.1" cy="109.8" r="1.45"/><circle cx="436.4" cy="110.4" r="1.45"/><circle cx="438.9" cy="111.3" r="1.45"/><circle cx="437.4" cy="111.9" r="1.45"/><circle cx="435.9" cy="112.6" r="1.45"/><circle cx="438.1" cy="113.5" r="1.45"/><circle cx="436.7" cy="114.2" r="1.45"/><circle cx="435.4" cy="115.6" r="1.45"/><circle cx="437.6" cy="115.9" r="1.45"/><circle cx="435.0" cy="71.4" r="1.45"/><circle cx="445.6" cy="80.1" r="1.45"/><circle cx="448.2" cy="80.6" r="1.45"/><circle cx="446.6" cy="81.7" r="1.45"/><circle cx="445.1" cy="82.6" r="1.45"/><circle cx="447.3" cy="83.1" r="1.45"/><circle cx="446.0" cy="83.9" r="1.45"/><circle cx="448.4" cy="85.1" r="1.45"/><circle cx="446.9" cy="86.0" r="1.45"/><circle cx="445.5" cy="86.8" r="1.45"/><circle cx="447.7" cy="86.9" r="1.45"/><circle cx="446.6" cy="88.1" r="1.45"/><circle cx="445.0" cy="88.7" r="1.45"/><circle cx="447.4" cy="89.5" r="1.45"/><circle cx="445.8" cy="90.0" r="1.45"/><circle cx="448.1" cy="91.5" r="1.45"/><circle cx="446.5" cy="91.7" r="1.45"/><circle cx="445.2" cy="92.4" r="1.45"/><circle cx="447.5" cy="93.7" r="1.45"/><circle cx="446.1" cy="94.2" r="1.45"/><circle cx="448.7" cy="95.1" r="1.45"/><circle cx="447.0" cy="96.0" r="1.45"/><circle cx="445.8" cy="96.8" r="1.45"/><circle cx="447.8" cy="97.5" r="1.45"/><circle cx="446.7" cy="98.4" r="1.45"/><circle cx="444.9" cy="98.8" r="1.45"/><circle cx="447.4" cy="99.5" r="1.45"/><circle cx="446.0" cy="100.8" r="1.45"/><circle cx="448.2" cy="101.7" r="1.45"/><circle cx="447.0" cy="102.0" r="1.45"/><circle cx="445.4" cy="103.0" r="1.45"/><circle cx="447.7" cy="103.8" r="1.45"/><circle cx="446.3" cy="104.1" r="1.45"/><circle cx="444.9" cy="104.9" r="1.45"/><circle cx="447.2" cy="105.9" r="1.45"/><circle cx="445.7" cy="106.9" r="1.45"/><circle cx="447.9" cy="107.5" r="1.45"/><circle cx="446.7" cy="108.7" r="1.45"/><circle cx="445.0" cy="109.5" r="1.45"/><circle cx="447.6" cy="110.0" r="1.45"/><circle cx="445.9" cy="110.6" r="1.45"/><circle cx="455.2" cy="76.3" r="1.45"/><circle cx="457.6" cy="77.1" r="1.45"/><circle cx="456.0" cy="78.2" r="1.45"/><circle cx="454.6" cy="79.1" r="1.45"/><circle cx="457.0" cy="80.0" r="1.45"/><circle cx="455.6" cy="80.6" r="1.45"/><circle cx="457.9" cy="81.3" r="1.45"/><circle cx="456.5" cy="82.6" r="1.45"/><circle cx="455.0" cy="83.0" r="1.45"/><circle cx="457.2" cy="84.4" r="1.45"/><circle cx="455.8" cy="84.6" r="1.45"/><circle cx="458.0" cy="86.0" r="1.45"/><circle cx="456.7" cy="86.1" r="1.45"/><circle cx="455.4" cy="87.4" r="1.45"/><circle cx="457.8" cy="88.0" r="1.45"/><circle cx="456.3" cy="88.7" r="1.45"/><circle cx="454.5" cy="89.4" r="1.45"/><circle cx="456.9" cy="90.3" r="1.45"/><circle cx="455.6" cy="91.4" r="1.45"/><circle cx="458.1" cy="91.9" r="1.45"/><circle cx="456.4" cy="92.9" r="1.45"/><circle cx="455.1" cy="93.6" r="1.45"/><circle cx="457.3" cy="95.0" r="1.45"/><circle cx="456.1" cy="95.1" r="1.45"/><circle cx="458.5" cy="96.1" r="1.45"/><circle cx="456.9" cy="97.1" r="1.45"/><circle cx="455.5" cy="97.8" r="1.45"/><circle cx="457.7" cy="98.7" r="1.45"/><circle cx="456.1" cy="99.9" r="1.45"/><circle cx="454.7" cy="100.6" r="1.45"/><circle cx="457.1" cy="101.3" r="1.45"/><circle cx="455.6" cy="102.3" r="1.45"/><circle cx="458.0" cy="102.9" r="1.45"/><circle cx="456.8" cy="104.0" r="1.45"/><circle cx="455.1" cy="104.6" r="1.45"/><circle cx="457.4" cy="105.1" r="1.45"/><circle cx="456.0" cy="106.1" r="1.45"/><circle cx="454.7" cy="106.7" r="1.45"/><circle cx="456.9" cy="107.9" r="1.45"/><circle cx="455.4" cy="109.0" r="1.45"/><circle cx="456.0" cy="113.6" r="1.45"/><circle cx="466.6" cy="78.5" r="1.45"/><circle cx="464.9" cy="80.0" r="1.45"/><circle cx="467.4" cy="80.9" r="1.45"/><circle cx="465.8" cy="81.5" r="1.45"/><circle cx="464.6" cy="82.6" r="1.45"/><circle cx="466.8" cy="83.3" r="1.45"/><circle cx="465.3" cy="84.6" r="1.45"/><circle cx="467.8" cy="85.6" r="1.45"/><circle cx="466.4" cy="86.2" r="1.45"/><circle cx="464.9" cy="87.3" r="1.45"/><circle cx="467.0" cy="88.7" r="1.45"/><circle cx="465.8" cy="89.6" r="1.45"/><circle cx="467.8" cy="90.1" r="1.45"/><circle cx="466.7" cy="91.0" r="1.45"/><circle cx="465.3" cy="91.8" r="1.45"/><circle cx="467.5" cy="92.9" r="1.45"/><circle cx="465.9" cy="93.8" r="1.45"/><circle cx="464.4" cy="95.3" r="1.45"/><circle cx="467.1" cy="95.9" r="1.45"/><circle cx="465.6" cy="97.2" r="1.45"/><circle cx="467.6" cy="98.4" r="1.45"/><circle cx="466.5" cy="98.7" r="1.45"/><circle cx="464.7" cy="100.1" r="1.45"/><circle cx="467.1" cy="100.9" r="1.45"/><circle cx="465.6" cy="101.8" r="1.45"/><circle cx="464.5" cy="102.4" r="1.45"/><circle cx="466.8" cy="103.6" r="1.45"/><circle cx="465.2" cy="104.4" r="1.45"/><circle cx="467.5" cy="105.4" r="1.45"/><circle cx="466.2" cy="106.4" r="1.45"/><circle cx="464.8" cy="107.3" r="1.45"/><circle cx="466.9" cy="108.6" r="1.45"/><circle cx="465.6" cy="109.4" r="1.45"/><circle cx="477.3" cy="86.0" r="1.45"/><circle cx="476.2" cy="87.3" r="1.45"/><circle cx="474.5" cy="88.0" r="1.45"/><circle cx="476.8" cy="88.4" r="1.45"/><circle cx="475.3" cy="89.2" r="1.45"/><circle cx="474.0" cy="90.4" r="1.45"/><circle cx="476.3" cy="91.3" r="1.45"/><circle cx="475.0" cy="91.7" r="1.45"/><circle cx="477.3" cy="93.0" r="1.45"/><circle cx="475.9" cy="93.8" r="1.45"/><circle cx="474.5" cy="95.0" r="1.45"/><circle cx="476.7" cy="95.6" r="1.45"/><circle cx="475.2" cy="96.2" r="1.45"/><circle cx="477.5" cy="97.6" r="1.45"/><circle cx="476.1" cy="97.9" r="1.45"/><circle cx="474.9" cy="98.6" r="1.45"/><circle cx="477.1" cy="99.3" r="1.45"/><circle cx="475.5" cy="100.9" r="1.45"/><circle cx="474.1" cy="101.5" r="1.45"/><circle cx="476.4" cy="102.1" r="1.45"/><circle cx="476.0" cy="74.7" r="1.45"/><circle cx="477.5" cy="80.5" r="1.45"/><circle cx="476.5" cy="109.0" r="1.45"/><circle cx="484.2" cy="70.6" r="1.45"/><circle cx="486.3" cy="71.5" r="1.45"/><circle cx="485.0" cy="72.1" r="1.45"/><circle cx="487.4" cy="72.9" r="1.45"/><circle cx="486.1" cy="73.4" r="1.45"/><circle cx="484.6" cy="74.0" r="1.45"/><circle cx="486.8" cy="75.5" r="1.45"/><circle cx="485.6" cy="76.1" r="1.45"/><circle cx="484.0" cy="76.7" r="1.45"/><circle cx="486.2" cy="77.9" r="1.45"/><circle cx="484.8" cy="78.7" r="1.45"/><circle cx="487.2" cy="79.4" r="1.45"/><circle cx="485.6" cy="80.3" r="1.45"/><circle cx="484.3" cy="81.1" r="1.45"/><circle cx="486.7" cy="81.6" r="1.45"/><circle cx="485.3" cy="82.4" r="1.45"/><circle cx="483.8" cy="83.4" r="1.45"/><circle cx="486.0" cy="84.3" r="1.45"/><circle cx="484.5" cy="84.8" r="1.45"/><circle cx="487.0" cy="86.2" r="1.45"/><circle cx="485.5" cy="86.7" r="1.45"/><circle cx="483.9" cy="87.8" r="1.45"/><circle cx="486.5" cy="88.1" r="1.45"/><circle cx="485.0" cy="89.1" r="1.45"/><circle cx="487.5" cy="90.3" r="1.45"/><circle cx="485.7" cy="91.1" r="1.45"/><circle cx="484.5" cy="91.5" r="1.45"/><circle cx="486.6" cy="92.7" r="1.45"/><circle cx="485.2" cy="93.0" r="1.45"/><circle cx="483.8" cy="93.8" r="1.45"/><circle cx="486.2" cy="95.2" r="1.45"/><circle cx="484.6" cy="95.7" r="1.45"/><circle cx="487.3" cy="96.5" r="1.45"/><circle cx="485.6" cy="97.5" r="1.45"/><circle cx="484.3" cy="98.2" r="1.45"/><circle cx="486.4" cy="99.2" r="1.45"/><circle cx="485.0" cy="100.0" r="1.45"/><circle cx="487.3" cy="100.7" r="1.45"/><circle cx="485.9" cy="101.4" r="1.45"/><circle cx="484.3" cy="102.2" r="1.45"/><circle cx="485.0" cy="57.2" r="1.45"/><circle cx="486.0" cy="65.7" r="1.45"/><circle cx="485.5" cy="108.0" r="1.45"/><circle cx="494.5" cy="38.8" r="1.45"/><circle cx="495.0" cy="55.0" r="1.45"/><circle cx="497.5" cy="56.0" r="1.45"/><circle cx="493.5" cy="62.5" r="1.45"/><circle cx="496.0" cy="64.6" r="1.45"/><circle cx="494.0" cy="68.8" r="1.45"/><circle cx="495.5" cy="71.0" r="1.45"/><circle cx="495.0" cy="76.2" r="1.45"/><circle cx="497.0" cy="78.3" r="1.45"/><circle cx="496.0" cy="80.5" r="1.45"/><circle cx="497.0" cy="84.0" r="1.45"/></g><rect x="392.11" y="34.5" width="108.90" height="110.90" fill="none" stroke="#000" stroke-width="1.2"/><path d="M388.71 39.80H392.11 M390.11 58.04H392.11 M390.11 53.45H392.11 M390.11 50.19H392.11 M390.11 47.66H392.11 M390.11 45.59H392.11 M390.11 43.84H392.11 M390.11 42.33H392.11 M390.11 40.99H392.11 M388.71 65.90H392.11 M390.11 84.14H392.11 M390.11 79.55H392.11 M390.11 76.29H392.11 M390.11 73.76H392.11 M390.11 71.69H392.11 M390.11 69.94H392.11 M390.11 68.43H392.11 M390.11 67.09H392.11 M388.71 92.00H392.11 M390.11 110.24H392.11 M390.11 105.65H392.11 M390.11 102.39H392.11 M390.11 99.86H392.11 M390.11 97.79H392.11 M390.11 96.04H392.11 M390.11 94.53H392.11 M390.11 93.19H392.11 M388.71 118.10H392.11 M390.11 136.34H392.11 M390.11 131.75H392.11 M390.11 128.49H392.11 M390.11 125.96H392.11 M390.11 123.89H392.11 M390.11 122.14H392.11 M390.11 120.63H392.11 M390.11 119.29H392.11 M388.71 144.20H392.11" stroke="#000" stroke-width="0.9" fill="none"/><g fill="#eef2fa" stroke="#2c4778" stroke-width="1.05"><circle cx="396.8" cy="196.4" r="1.45"/><circle cx="399.4" cy="196.8" r="1.45"/><circle cx="397.8" cy="197.6" r="1.45"/><circle cx="396.6" cy="198.4" r="1.45"/><circle cx="398.8" cy="199.0" r="1.45"/><circle cx="397.2" cy="200.3" r="1.45"/><circle cx="399.8" cy="200.7" r="1.45"/><circle cx="398.2" cy="201.6" r="1.45"/><circle cx="396.7" cy="201.9" r="1.45"/><circle cx="399.2" cy="202.8" r="1.45"/><circle cx="397.6" cy="203.5" r="1.45"/><circle cx="400.1" cy="204.5" r="1.45"/><circle cx="398.5" cy="205.0" r="1.45"/><circle cx="397.3" cy="205.9" r="1.45"/><circle cx="399.6" cy="206.4" r="1.45"/><circle cx="398.0" cy="207.5" r="1.45"/><circle cx="396.5" cy="208.2" r="1.45"/><circle cx="399.0" cy="208.5" r="1.45"/><circle cx="397.5" cy="209.4" r="1.45"/><circle cx="400.0" cy="210.3" r="1.45"/><circle cx="398.2" cy="211.2" r="1.45"/><circle cx="396.9" cy="211.8" r="1.45"/><circle cx="399.4" cy="212.4" r="1.45"/><circle cx="397.8" cy="213.1" r="1.45"/><circle cx="396.3" cy="214.2" r="1.45"/><circle cx="398.7" cy="214.7" r="1.45"/><circle cx="397.3" cy="215.7" r="1.45"/><circle cx="399.5" cy="216.3" r="1.45"/><circle cx="398.2" cy="216.5" r="1.45"/><circle cx="396.8" cy="217.6" r="1.45"/><circle cx="398.9" cy="218.5" r="1.45"/><circle cx="397.4" cy="218.8" r="1.45"/><circle cx="399.8" cy="220.0" r="1.45"/><circle cx="398.6" cy="220.2" r="1.45"/><circle cx="396.8" cy="221.3" r="1.45"/><circle cx="399.5" cy="222.1" r="1.45"/><circle cx="397.7" cy="222.7" r="1.45"/><circle cx="396.4" cy="223.6" r="1.45"/><circle cx="399.0" cy="224.3" r="1.45"/><circle cx="397.5" cy="225.2" r="1.45"/><circle cx="399.6" cy="225.4" r="1.45"/><circle cx="398.1" cy="226.4" r="1.45"/><circle cx="396.7" cy="227.5" r="1.45"/><circle cx="399.1" cy="227.7" r="1.45"/><circle cx="397.9" cy="228.4" r="1.45"/><circle cx="396.3" cy="229.4" r="1.45"/><circle cx="398.4" cy="230.0" r="1.45"/><circle cx="397.3" cy="230.6" r="1.45"/><circle cx="399.6" cy="231.7" r="1.45"/><circle cx="397.9" cy="232.0" r="1.45"/><circle cx="396.6" cy="232.6" r="1.45"/><circle cx="398.9" cy="233.6" r="1.45"/><circle cx="397.5" cy="234.4" r="1.45"/><circle cx="400.0" cy="235.1" r="1.45"/><circle cx="398.6" cy="235.7" r="1.45"/><circle cx="396.8" cy="236.7" r="1.45"/><circle cx="399.3" cy="237.2" r="1.45"/><circle cx="397.9" cy="238.0" r="1.45"/><circle cx="396.3" cy="238.7" r="1.45"/><circle cx="398.7" cy="239.8" r="1.45"/><circle cx="397.4" cy="240.5" r="1.45"/><circle cx="399.6" cy="241.1" r="1.45"/><circle cx="398.2" cy="242.1" r="1.45"/><circle cx="396.6" cy="242.8" r="1.45"/><circle cx="399.1" cy="243.2" r="1.45"/><circle cx="397.8" cy="243.6" r="1.45"/><circle cx="400.0" cy="244.3" r="1.45"/><circle cx="398.7" cy="245.2" r="1.45"/><circle cx="397.2" cy="246.2" r="1.45"/><circle cx="399.5" cy="246.9" r="1.45"/><circle cx="397.9" cy="247.8" r="1.45"/><circle cx="396.7" cy="248.1" r="1.45"/><circle cx="399.0" cy="248.8" r="1.45"/><circle cx="397.3" cy="249.6" r="1.45"/><circle cx="399.9" cy="250.2" r="1.45"/><circle cx="398.3" cy="251.6" r="1.45"/><circle cx="396.8" cy="252.1" r="1.45"/><circle cx="399.3" cy="253.1" r="1.45"/><circle cx="397.6" cy="253.2" r="1.45"/><circle cx="396.1" cy="254.4" r="1.45"/><circle cx="398.6" cy="255.2" r="1.45"/><circle cx="396.0" cy="192.0" r="1.45"/><circle cx="406.7" cy="200.8" r="1.45"/><circle cx="409.0" cy="201.6" r="1.45"/><circle cx="407.6" cy="202.6" r="1.45"/><circle cx="406.1" cy="203.3" r="1.45"/><circle cx="408.8" cy="204.0" r="1.45"/><circle cx="407.0" cy="204.4" r="1.45"/><circle cx="409.6" cy="205.2" r="1.45"/><circle cx="408.1" cy="205.8" r="1.45"/><circle cx="406.6" cy="206.4" r="1.45"/><circle cx="408.9" cy="207.7" r="1.45"/><circle cx="407.3" cy="208.4" r="1.45"/><circle cx="405.9" cy="209.3" r="1.45"/><circle cx="408.6" cy="210.1" r="1.45"/><circle cx="407.0" cy="210.9" r="1.45"/><circle cx="409.2" cy="211.1" r="1.45"/><circle cx="407.8" cy="212.2" r="1.45"/><circle cx="406.2" cy="213.1" r="1.45"/><circle cx="408.9" cy="213.5" r="1.45"/><circle cx="407.3" cy="214.4" r="1.45"/><circle cx="409.5" cy="214.7" r="1.45"/><circle cx="408.3" cy="215.6" r="1.45"/><circle cx="406.6" cy="216.8" r="1.45"/><circle cx="408.9" cy="217.6" r="1.45"/><circle cx="407.8" cy="218.1" r="1.45"/><circle cx="406.4" cy="218.7" r="1.45"/><circle cx="408.3" cy="219.7" r="1.45"/><circle cx="407.1" cy="220.1" r="1.45"/><circle cx="409.5" cy="220.8" r="1.45"/><circle cx="408.1" cy="221.5" r="1.45"/><circle cx="406.3" cy="222.4" r="1.45"/><circle cx="408.7" cy="223.3" r="1.45"/><circle cx="407.5" cy="224.1" r="1.45"/><circle cx="406.0" cy="224.9" r="1.45"/><circle cx="408.3" cy="225.2" r="1.45"/><circle cx="406.9" cy="226.0" r="1.45"/><circle cx="409.2" cy="226.7" r="1.45"/><circle cx="407.7" cy="227.7" r="1.45"/><circle cx="406.2" cy="228.7" r="1.45"/><circle cx="408.8" cy="229.0" r="1.45"/><circle cx="407.3" cy="229.9" r="1.45"/><circle cx="409.5" cy="231.1" r="1.45"/><circle cx="407.9" cy="231.2" r="1.45"/><circle cx="406.5" cy="232.6" r="1.45"/><circle cx="409.0" cy="233.0" r="1.45"/><circle cx="407.5" cy="233.5" r="1.45"/><circle cx="406.1" cy="234.3" r="1.45"/><circle cx="408.4" cy="235.3" r="1.45"/><circle cx="407.0" cy="235.8" r="1.45"/><circle cx="409.2" cy="236.5" r="1.45"/><circle cx="408.0" cy="237.3" r="1.45"/><circle cx="406.6" cy="238.3" r="1.45"/><circle cx="409.0" cy="238.6" r="1.45"/><circle cx="407.5" cy="239.8" r="1.45"/><circle cx="409.8" cy="240.6" r="1.45"/><circle cx="408.3" cy="241.1" r="1.45"/><circle cx="406.7" cy="241.7" r="1.45"/><circle cx="409.1" cy="242.4" r="1.45"/><circle cx="407.6" cy="243.5" r="1.45"/><circle cx="406.1" cy="244.6" r="1.45"/><circle cx="408.5" cy="245.1" r="1.45"/><circle cx="407.2" cy="245.9" r="1.45"/><circle cx="409.3" cy="246.7" r="1.45"/><circle cx="407.0" cy="251.0" r="1.45"/><circle cx="416.8" cy="200.9" r="1.45"/><circle cx="419.0" cy="201.2" r="1.45"/><circle cx="417.6" cy="202.5" r="1.45"/><circle cx="416.2" cy="203.0" r="1.45"/><circle cx="418.5" cy="203.9" r="1.45"/><circle cx="417.1" cy="204.4" r="1.45"/><circle cx="419.2" cy="205.5" r="1.45"/><circle cx="417.7" cy="206.0" r="1.45"/><circle cx="416.4" cy="207.3" r="1.45"/><circle cx="418.7" cy="207.6" r="1.45"/><circle cx="417.1" cy="208.4" r="1.45"/><circle cx="415.8" cy="209.3" r="1.45"/><circle cx="418.4" cy="210.7" r="1.45"/><circle cx="416.7" cy="211.3" r="1.45"/><circle cx="419.2" cy="211.9" r="1.45"/><circle cx="417.7" cy="213.0" r="1.45"/><circle cx="416.0" cy="213.6" r="1.45"/><circle cx="418.6" cy="214.4" r="1.45"/><circle cx="416.9" cy="215.3" r="1.45"/><circle cx="419.3" cy="216.0" r="1.45"/><circle cx="418.1" cy="216.4" r="1.45"/><circle cx="416.6" cy="217.6" r="1.45"/><circle cx="419.0" cy="217.9" r="1.45"/><circle cx="417.6" cy="219.4" r="1.45"/><circle cx="416.1" cy="220.0" r="1.45"/><circle cx="418.3" cy="220.8" r="1.45"/><circle cx="417.0" cy="221.3" r="1.45"/><circle cx="419.3" cy="222.4" r="1.45"/><circle cx="417.9" cy="222.8" r="1.45"/><circle cx="416.5" cy="223.8" r="1.45"/><circle cx="418.8" cy="224.2" r="1.45"/><circle cx="417.1" cy="225.6" r="1.45"/><circle cx="415.6" cy="226.4" r="1.45"/><circle cx="418.1" cy="226.7" r="1.45"/><circle cx="416.6" cy="227.5" r="1.45"/><circle cx="419.1" cy="228.8" r="1.45"/><circle cx="417.5" cy="229.5" r="1.45"/><circle cx="416.2" cy="230.3" r="1.45"/><circle cx="418.6" cy="231.0" r="1.45"/><circle cx="416.9" cy="231.9" r="1.45"/><circle cx="419.4" cy="232.1" r="1.45"/><circle cx="417.8" cy="233.5" r="1.45"/><circle cx="416.6" cy="234.1" r="1.45"/><circle cx="418.6" cy="235.1" r="1.45"/><circle cx="417.1" cy="235.6" r="1.45"/><circle cx="416.0" cy="236.1" r="1.45"/><circle cx="418.3" cy="237.1" r="1.45"/><circle cx="416.7" cy="238.0" r="1.45"/><circle cx="426.3" cy="201.7" r="1.45"/><circle cx="428.4" cy="202.7" r="1.45"/><circle cx="427.0" cy="203.1" r="1.45"/><circle cx="425.6" cy="204.4" r="1.45"/><circle cx="428.1" cy="205.2" r="1.45"/><circle cx="426.6" cy="205.5" r="1.45"/><circle cx="429.0" cy="206.3" r="1.45"/><circle cx="427.3" cy="207.2" r="1.45"/><circle cx="425.9" cy="208.6" r="1.45"/><circle cx="428.5" cy="208.8" r="1.45"/><circle cx="427.0" cy="209.9" r="1.45"/><circle cx="425.4" cy="210.6" r="1.45"/><circle cx="427.8" cy="211.8" r="1.45"/><circle cx="426.2" cy="212.7" r="1.45"/><circle cx="428.5" cy="213.3" r="1.45"/><circle cx="427.0" cy="213.9" r="1.45"/><circle cx="425.9" cy="214.4" r="1.45"/><circle cx="428.2" cy="215.5" r="1.45"/><circle cx="426.6" cy="216.1" r="1.45"/><circle cx="429.0" cy="216.8" r="1.45"/><circle cx="427.6" cy="218.2" r="1.45"/><circle cx="426.3" cy="218.6" r="1.45"/><circle cx="428.5" cy="219.8" r="1.45"/><circle cx="427.0" cy="220.0" r="1.45"/><circle cx="425.7" cy="221.1" r="1.45"/><circle cx="428.0" cy="221.8" r="1.45"/><circle cx="426.4" cy="222.8" r="1.45"/><circle cx="428.9" cy="223.6" r="1.45"/><circle cx="427.3" cy="224.7" r="1.45"/><circle cx="426.1" cy="225.0" r="1.45"/><circle cx="428.4" cy="225.6" r="1.45"/><circle cx="426.8" cy="226.9" r="1.45"/><circle cx="429.2" cy="227.5" r="1.45"/><circle cx="427.8" cy="228.7" r="1.45"/><circle cx="426.0" cy="229.4" r="1.45"/><circle cx="428.4" cy="229.8" r="1.45"/><circle cx="427.3" cy="231.2" r="1.45"/><circle cx="425.7" cy="231.3" r="1.45"/><circle cx="426.0" cy="197.2" r="1.45"/><circle cx="437.2" cy="198.8" r="1.45"/><circle cx="435.9" cy="200.3" r="1.45"/><circle cx="438.3" cy="200.9" r="1.45"/><circle cx="436.7" cy="201.8" r="1.45"/><circle cx="435.5" cy="202.9" r="1.45"/><circle cx="437.7" cy="204.0" r="1.45"/><circle cx="436.1" cy="204.9" r="1.45"/><circle cx="438.6" cy="206.1" r="1.45"/><circle cx="437.0" cy="206.8" r="1.45"/><circle cx="435.6" cy="207.3" r="1.45"/><circle cx="438.1" cy="208.8" r="1.45"/><circle cx="436.4" cy="209.3" r="1.45"/><circle cx="439.0" cy="210.4" r="1.45"/><circle cx="437.5" cy="211.1" r="1.45"/><circle cx="435.9" cy="212.0" r="1.45"/><circle cx="438.2" cy="212.9" r="1.45"/><circle cx="437.0" cy="214.1" r="1.45"/><circle cx="435.3" cy="215.5" r="1.45"/><circle cx="437.9" cy="215.9" r="1.45"/><circle cx="436.2" cy="216.7" r="1.45"/><circle cx="438.5" cy="217.9" r="1.45"/><circle cx="437.2" cy="218.6" r="1.45"/><circle cx="435.9" cy="219.7" r="1.45"/><circle cx="438.0" cy="220.5" r="1.45"/><circle cx="436.6" cy="222.0" r="1.45"/><circle cx="435.2" cy="222.9" r="1.45"/><circle cx="437.5" cy="223.7" r="1.45"/><circle cx="436.2" cy="224.2" r="1.45"/><circle cx="438.5" cy="225.4" r="1.45"/><circle cx="437.1" cy="226.5" r="1.45"/><circle cx="437.0" cy="231.0" r="1.45"/><circle cx="446.0" cy="199.1" r="1.45"/><circle cx="448.1" cy="200.2" r="1.45"/><circle cx="446.7" cy="201.3" r="1.45"/><circle cx="445.1" cy="202.4" r="1.45"/><circle cx="447.7" cy="203.5" r="1.45"/><circle cx="446.4" cy="204.1" r="1.45"/><circle cx="448.4" cy="205.0" r="1.45"/><circle cx="447.1" cy="205.9" r="1.45"/><circle cx="445.7" cy="207.4" r="1.45"/><circle cx="448.1" cy="208.1" r="1.45"/><circle cx="446.5" cy="208.9" r="1.45"/><circle cx="445.3" cy="210.3" r="1.45"/><circle cx="447.5" cy="211.3" r="1.45"/><circle cx="445.9" cy="212.4" r="1.45"/><circle cx="448.4" cy="213.6" r="1.45"/><circle cx="446.8" cy="214.1" r="1.45"/><circle cx="445.4" cy="215.4" r="1.45"/><circle cx="447.9" cy="215.9" r="1.45"/><circle cx="446.3" cy="217.2" r="1.45"/><circle cx="445.0" cy="218.3" r="1.45"/><circle cx="447.2" cy="218.9" r="1.45"/><circle cx="445.7" cy="219.9" r="1.45"/><circle cx="448.3" cy="221.2" r="1.45"/><circle cx="446.7" cy="222.3" r="1.45"/><circle cx="445.3" cy="223.1" r="1.45"/><circle cx="447.7" cy="224.0" r="1.45"/><circle cx="446.3" cy="225.4" r="1.45"/><circle cx="455.2" cy="205.3" r="1.45"/><circle cx="457.6" cy="206.3" r="1.45"/><circle cx="456.1" cy="207.8" r="1.45"/><circle cx="454.6" cy="208.8" r="1.45"/><circle cx="456.8" cy="210.0" r="1.45"/><circle cx="455.5" cy="211.0" r="1.45"/><circle cx="457.7" cy="212.1" r="1.45"/><circle cx="456.4" cy="212.8" r="1.45"/><circle cx="454.8" cy="214.5" r="1.45"/><circle cx="457.1" cy="215.2" r="1.45"/><circle cx="455.9" cy="216.2" r="1.45"/><circle cx="458.3" cy="218.1" r="1.45"/><circle cx="456.8" cy="218.7" r="1.45"/><circle cx="456.0" cy="197.2" r="1.45"/><circle cx="464.5" cy="191.2" r="1.45"/><circle cx="466.9" cy="192.1" r="1.45"/><circle cx="465.3" cy="193.7" r="1.45"/><circle cx="467.7" cy="195.2" r="1.45"/><circle cx="466.4" cy="197.1" r="1.45"/><circle cx="465.0" cy="198.2" r="1.45"/><circle cx="467.1" cy="199.7" r="1.45"/><circle cx="465.7" cy="201.7" r="1.45"/><circle cx="464.3" cy="202.9" r="1.45"/><circle cx="466.8" cy="204.4" r="1.45"/><circle cx="465.3" cy="205.9" r="1.45"/><circle cx="467.6" cy="207.9" r="1.45"/><circle cx="466.2" cy="208.8" r="1.45"/><circle cx="464.3" cy="215.0" r="1.45"/><circle cx="466.8" cy="216.7" r="1.45"/><circle cx="465.3" cy="219.2" r="1.45"/><circle cx="467.6" cy="220.9" r="1.45"/><circle cx="476.4" cy="196.6" r="1.45"/><circle cx="474.9" cy="198.7" r="1.45"/><circle cx="477.0" cy="200.1" r="1.45"/><circle cx="475.5" cy="201.5" r="1.45"/><circle cx="474.1" cy="202.6" r="1.45"/><circle cx="476.6" cy="204.0" r="1.45"/><circle cx="475.1" cy="205.7" r="1.45"/><circle cx="477.3" cy="206.8" r="1.45"/><circle cx="475.9" cy="208.3" r="1.45"/><circle cx="474.6" cy="209.6" r="1.45"/><circle cx="476.9" cy="211.3" r="1.45"/><circle cx="484.3" cy="188.5" r="1.45"/><circle cx="486.8" cy="189.5" r="1.45"/><circle cx="485.5" cy="191.3" r="1.45"/><circle cx="484.1" cy="192.6" r="1.45"/><circle cx="486.3" cy="194.1" r="1.45"/><circle cx="484.6" cy="195.3" r="1.45"/><circle cx="486.9" cy="196.3" r="1.45"/><circle cx="485.8" cy="198.2" r="1.45"/><circle cx="484.1" cy="199.3" r="1.45"/><circle cx="486.4" cy="200.5" r="1.45"/><circle cx="485.3" cy="202.1" r="1.45"/><circle cx="487.3" cy="203.2" r="1.45"/><circle cx="486.0" cy="204.4" r="1.45"/><circle cx="484.7" cy="206.3" r="1.45"/><circle cx="486.8" cy="207.3" r="1.45"/><circle cx="485.3" cy="208.4" r="1.45"/><circle cx="484.0" cy="210.3" r="1.45"/><circle cx="486.5" cy="211.8" r="1.45"/><circle cx="484.9" cy="213.0" r="1.45"/><circle cx="487.1" cy="214.4" r="1.45"/><circle cx="485.8" cy="215.2" r="1.45"/><circle cx="494.5" cy="194.5" r="1.45"/></g><rect x="392.11" y="149.3" width="108.90" height="110.50" fill="none" stroke="#000" stroke-width="1.2"/><path d="M388.71 154.60H392.11 M390.11 172.84H392.11 M390.11 168.25H392.11 M390.11 164.99H392.11 M390.11 162.46H392.11 M390.11 160.39H392.11 M390.11 158.64H392.11 M390.11 157.13H392.11 M390.11 155.79H392.11 M388.71 180.70H392.11 M390.11 198.94H392.11 M390.11 194.35H392.11 M390.11 191.09H392.11 M390.11 188.56H392.11 M390.11 186.49H392.11 M390.11 184.74H392.11 M390.11 183.23H392.11 M390.11 181.89H392.11 M388.71 206.80H392.11 M390.11 225.04H392.11 M390.11 220.45H392.11 M390.11 217.19H392.11 M390.11 214.66H392.11 M390.11 212.59H392.11 M390.11 210.84H392.11 M390.11 209.33H392.11 M390.11 207.99H392.11 M388.71 232.90H392.11 M390.11 251.14H392.11 M390.11 246.55H392.11 M390.11 243.29H392.11 M390.11 240.76H392.11 M390.11 238.69H392.11 M390.11 236.94H392.11 M390.11 235.43H392.11 M390.11 234.09H392.11 M388.71 259.00H392.11" stroke="#000" stroke-width="0.9" fill="none"/><path d="M398.11 259.80V263.00 M407.83 259.80V263.00 M417.55 259.80V263.00 M427.27 259.80V263.00 M436.99 259.80V263.00 M446.71 259.80V263.00 M456.43 259.80V263.00 M466.15 259.80V263.00 M475.87 259.80V263.00 M485.59 259.80V263.00 M495.31 259.80V263.00" stroke="#000" stroke-width="1.0" fill="none"/><text transform="translate(401.11,269.00) rotate(-45)" text-anchor="end" font-family='"Liberation Sans", sans-serif' font-size="6.4" fill="#1e1e1e">2</text><text transform="translate(410.83,269.00) rotate(-45)" text-anchor="end" font-family='"Liberation Sans", sans-serif' font-size="6.4" fill="#1e1e1e">3</text><text transform="translate(420.55,269.00) rotate(-45)" text-anchor="end" font-family='"Liberation Sans", sans-serif' font-size="6.4" fill="#1e1e1e">4</text><text transform="translate(430.27,269.00) rotate(-45)" text-anchor="end" font-family='"Liberation Sans", sans-serif' font-size="6.4" fill="#1e1e1e">5</text><text transform="translate(439.99,269.00) rotate(-45)" text-anchor="end" font-family='"Liberation Sans", sans-serif' font-size="6.4" fill="#1e1e1e">6</text><text transform="translate(449.71,269.00) rotate(-45)" text-anchor="end" font-family='"Liberation Sans", sans-serif' font-size="6.4" fill="#1e1e1e">7</text><text transform="translate(459.43,269.00) rotate(-45)" text-anchor="end" font-family='"Liberation Sans", sans-serif' font-size="6.4" fill="#1e1e1e">8</text><text transform="translate(469.15,269.00) rotate(-45)" text-anchor="end" font-family='"Liberation Sans", sans-serif' font-size="6.4" fill="#1e1e1e">9</text><text transform="translate(478.87,269.00) rotate(-45)" text-anchor="end" font-family='"Liberation Sans", sans-serif' font-size="6.4" fill="#1e1e1e">10</text><text transform="translate(488.59,269.00) rotate(-45)" text-anchor="end" font-family='"Liberation Sans", sans-serif' font-size="6.4" fill="#1e1e1e">11-30</text><text transform="translate(498.31,269.00) rotate(-45)" text-anchor="end" font-family='"Liberation Sans", sans-serif' font-size="6.4" fill="#1e1e1e">&gt;30</text><rect x="501.01" y="34.5" width="11.59" height="110.90" fill="#c4c4c8" stroke="#000" stroke-width="1.2"/><text transform="translate(504.71,89.95) rotate(90)" text-anchor="middle" font-family='"Liberation Sans", sans-serif' font-size="8.6" fill="#1a1a1a">HCV</text><rect x="501.01" y="149.3" width="11.59" height="110.50" fill="#c4c4c8" stroke="#000" stroke-width="1.2"/><text transform="translate(504.71,204.55) rotate(90)" text-anchor="middle" font-family='"Liberation Sans", sans-serif' font-size="8.6" fill="#1a1a1a">HD</text><text x="267.8" y="293" text-anchor="middle" font-family='"Liberation Sans", sans-serif' font-size="8.4" fill="#222" textLength="72.6" lengthAdjust="spacingAndGlyphs">Member count in clones</text><text x="7.5" y="318" font-family='"Liberation Sans", sans-serif' font-weight="bold" font-size="10.5" fill="#000">B</text><path d="M44.6 318V615.6H346.2" stroke="#000" stroke-width="1.2" fill="none"/><text x="38.1" y="604.80" text-anchor="end" font-family='"Liberation Sans", sans-serif' font-size="8" fill="#1e1e1e">0</text><text x="38.1" y="561.51" text-anchor="end" font-family='"Liberation Sans", sans-serif' font-size="8" fill="#1e1e1e">1</text><text x="38.1" y="508.00" text-anchor="end" font-family='"Liberation Sans", sans-serif' font-size="8" fill="#1e1e1e">5</text><text x="38.1" y="467.91" text-anchor="end" font-family='"Liberation Sans", sans-serif' font-size="8" fill="#1e1e1e">10</text><text x="38.1" y="411.20" text-anchor="end" font-family='"Liberation Sans", sans-serif' font-size="8" fill="#1e1e1e">20</text><text x="38.1" y="367.69" text-anchor="end" font-family='"Liberation Sans", sans-serif' font-size="8" fill="#1e1e1e">30</text><text x="38.1" y="331.01" text-anchor="end" font-family='"Liberation Sans", sans-serif' font-size="8" fill="#1e1e1e">40</text><path d="M41.4 602.20H44.6 M41.4 558.91H44.6 M41.4 505.40H44.6 M41.4 465.31H44.6 M41.4 408.60H44.6 M41.4 365.09H44.6 M41.4 328.41H44.6 M133.8 615.6V618.4 M267.1 615.6V618.4" stroke="#000" stroke-width="1.0" fill="none"/><text x="134" y="628.8" text-anchor="middle" font-family='"Liberation Sans", sans-serif' font-size="7.8" fill="#1e1e1e">CSM</text><text x="267.3" y="628.6" text-anchor="middle" font-family='"Liberation Sans", sans-serif' font-size="7.8" fill="#1e1e1e">NCSM</text><text x="195.4" y="642.2" text-anchor="middle" font-family='"Liberation Sans", sans-serif' font-size="8.6" fill="#222" textLength="42.3" lengthAdjust="spacingAndGlyphs">B-cell subset</text><text transform="translate(23.7,466.5) rotate(-90)" text-anchor="middle" font-family='"Liberation Sans", sans-serif' font-size="8.4" fill="#222" textLength="103" lengthAdjust="spacingAndGlyphs">% of reads in expanded clones</text><text x="96.6" y="436.9" text-anchor="middle" font-family='"Liberation Sans", sans-serif' font-size="7.3" fill="#1e1e1e">0.52</text><text x="96.6" y="446" text-anchor="middle" font-family='"Liberation Sans", sans-serif' font-size="7.3" fill="#1e1e1e">(0.11 - 1.16)</text><text x="164.7" y="436.9" text-anchor="middle" font-family='"Liberation Sans", sans-serif' font-size="7.3" fill="#1e1e1e">0.02</text><text x="164.7" y="446" text-anchor="middle" font-family='"Liberation Sans", sans-serif' font-size="7.3" fill="#1e1e1e">(0.00 - 0.06)</text><text x="235.1" y="436.9" text-anchor="middle" font-family='"Liberation Sans", sans-serif' font-size="7.3" fill="#1e1e1e">3.31</text><text x="235.1" y="446" text-anchor="middle" font-family='"Liberation Sans", sans-serif' font-size="7.3" fill="#1e1e1e">(1.06 - 7.11)</text><text x="307" y="436.9" text-anchor="middle" font-family='"Liberation Sans", sans-serif' font-size="7.3" fill="#1e1e1e">0.81</text><text x="307" y="446" text-anchor="middle" font-family='"Liberation Sans", sans-serif' font-size="7.3" fill="#1e1e1e">(0.20 - 1.69)</text><g fill="#840b30"><circle cx="100.2" cy="495.5" r="1.95"/><circle cx="101.6" cy="536.7" r="1.95"/><circle cx="98.2" cy="561.2" r="1.95"/><circle cx="103.2" cy="566.5" r="1.95"/><circle cx="96.5" cy="579.5" r="1.95"/><circle cx="101.8" cy="581.5" r="1.95"/><circle cx="83.8" cy="583.5" r="1.95"/><circle cx="98.3" cy="584.8" r="1.95"/><circle cx="117.2" cy="584.3" r="1.95"/><circle cx="90.5" cy="587.1" r="1.95"/><circle cx="107.5" cy="586.2" r="1.95"/><circle cx="110.8" cy="588" r="1.95"/><circle cx="98" cy="593.8" r="1.95"/><circle cx="77.2" cy="602.2" r="1.95"/><circle cx="80.2" cy="602.2" r="1.95"/><circle cx="87.3" cy="602.2" r="1.95"/><circle cx="94" cy="602.2" r="1.95"/><circle cx="100.6" cy="602.2" r="1.95"/><circle cx="104" cy="602.2" r="1.95"/><circle cx="107.5" cy="602.2" r="1.95"/><circle cx="113.6" cy="602.2" r="1.95"/><circle cx="120.2" cy="602.2" r="1.95"/><circle cx="232.6" cy="331.3" r="1.95"/><circle cx="227.4" cy="497.7" r="1.95"/><circle cx="236.2" cy="494.7" r="1.95"/><circle cx="236.9" cy="509.3" r="1.95"/><circle cx="231.3" cy="522.9" r="1.95"/><circle cx="233.8" cy="534.7" r="1.95"/><circle cx="215.7" cy="549" r="1.95"/><circle cx="252.2" cy="550.5" r="1.95"/><circle cx="217" cy="556.5" r="1.95"/><circle cx="230.4" cy="554.6" r="1.95"/><circle cx="243.3" cy="554.6" r="1.95"/><circle cx="250" cy="558.9" r="1.95"/><circle cx="224.8" cy="563.2" r="1.95"/><circle cx="236.4" cy="563.6" r="1.95"/><circle cx="216.2" cy="570.7" r="1.95"/><circle cx="248.5" cy="571.2" r="1.95"/><circle cx="228.9" cy="574.6" r="1.95"/><circle cx="219.8" cy="583.2" r="1.95"/><circle cx="238.4" cy="580.9" r="1.95"/><circle cx="226.1" cy="587.3" r="1.95"/><circle cx="242" cy="586.3" r="1.95"/><circle cx="233.6" cy="602.4" r="1.95"/></g><g fill="#2b3d5f"><circle cx="147.1" cy="602.3" r="1.95"/><circle cx="153.8" cy="602.3" r="1.95"/><circle cx="160.7" cy="602.3" r="1.95"/><circle cx="167.1" cy="602.3" r="1.95"/><circle cx="173.7" cy="602.3" r="1.95"/><circle cx="180.5" cy="602.3" r="1.95"/><circle cx="170.4" cy="586.8" r="1.95"/><circle cx="308.7" cy="524.6" r="1.95"/><circle cx="295.9" cy="556.7" r="1.95"/><circle cx="304.3" cy="564.5" r="1.95"/><circle cx="284.2" cy="578.2" r="1.95"/><circle cx="313.5" cy="584.1" r="1.95"/><circle cx="288.8" cy="589" r="1.95"/><circle cx="300" cy="602.4" r="1.95"/></g><text x="368.2" y="449" font-family='"Liberation Sans", sans-serif' font-size="7.6" fill="#222">Donor</text><circle cx="377.1" cy="457.9" r="1.95" fill="#840b30"/><circle cx="377.1" cy="468.8" r="1.95" fill="#2b3d5f"/><text x="382.9" y="460.3" font-family='"Liberation Sans", sans-serif' font-size="7.1" fill="#1e1e1e">HCV</text><text x="382.9" y="471.1" font-family='"Liberation Sans", sans-serif' font-size="7.1" fill="#1e1e1e">HD</text><path d="M0.6 0.6H519V649H0.6Z" fill="none" stroke="#000" stroke-width="1.3"/><path d="M519 0V650M0 649H520" stroke="#000" stroke-width="1.4"/></svg></body></html>
